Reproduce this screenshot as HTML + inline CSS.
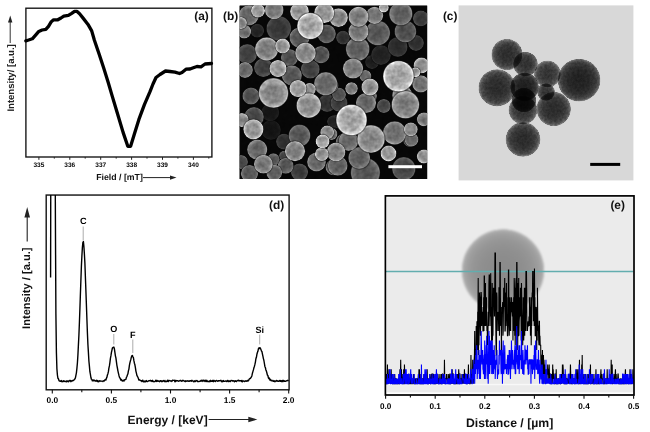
<!DOCTYPE html><html><head><meta charset="utf-8"><style>html,body{margin:0;padding:0;background:#fff;}svg{display:block;text-rendering:geometricPrecision;will-change:transform;}</style></head><body><svg width="650" height="432" viewBox="0 0 650 432"><defs><clipPath id="semclip"><rect x="239.6" y="5.6" width="187.6" height="173.4"/></clipPath><filter id="tex" filterUnits="userSpaceOnUse" x="239.6" y="5.6" width="187.6" height="173.4" color-interpolation-filters="sRGB"><feTurbulence type="fractalNoise" baseFrequency="0.22" numOctaves="2" seed="5" result="n"/><feColorMatrix in="n" type="matrix" values="1 0 0 0 0  1 0 0 0 0  1 0 0 0 0  0 0 0 0 1" result="gray"/><feComposite in="SourceGraphic" in2="gray" operator="arithmetic" k1="0.5" k2="0.75" k3="0" k4="0" result="t"/><feGaussianBlur in="t" stdDeviation="0.35"/></filter><radialGradient id="sg0" cx="0.5" cy="0.5" r="0.5"><stop offset="0" stop-color="#121212"/><stop offset="0.6" stop-color="#141414"/><stop offset="0.84" stop-color="#181818"/><stop offset="0.94" stop-color="#1c1c1c"/><stop offset="1" stop-color="#0f0f0f"/></radialGradient><radialGradient id="sg1" cx="0.5" cy="0.5" r="0.5"><stop offset="0" stop-color="#151515"/><stop offset="0.6" stop-color="#161616"/><stop offset="0.84" stop-color="#1b1b1b"/><stop offset="0.94" stop-color="#1f1f1f"/><stop offset="1" stop-color="#111111"/></radialGradient><radialGradient id="sg2" cx="0.5" cy="0.5" r="0.5"><stop offset="0" stop-color="#1c1c1c"/><stop offset="0.6" stop-color="#1e1e1e"/><stop offset="0.84" stop-color="#242424"/><stop offset="0.94" stop-color="#2b2b2b"/><stop offset="1" stop-color="#171717"/></radialGradient><radialGradient id="sg3" cx="0.5" cy="0.5" r="0.5"><stop offset="0" stop-color="#1f1f1f"/><stop offset="0.6" stop-color="#222222"/><stop offset="0.84" stop-color="#282828"/><stop offset="0.94" stop-color="#2f2f2f"/><stop offset="1" stop-color="#191919"/></radialGradient><radialGradient id="sg4" cx="0.5" cy="0.5" r="0.5"><stop offset="0" stop-color="#212121"/><stop offset="0.6" stop-color="#242424"/><stop offset="0.84" stop-color="#2b2b2b"/><stop offset="0.94" stop-color="#323232"/><stop offset="1" stop-color="#1b1b1b"/></radialGradient><radialGradient id="sg5" cx="0.5" cy="0.5" r="0.5"><stop offset="0" stop-color="#212121"/><stop offset="0.6" stop-color="#242424"/><stop offset="0.84" stop-color="#2b2b2b"/><stop offset="0.94" stop-color="#323232"/><stop offset="1" stop-color="#1b1b1b"/></radialGradient><radialGradient id="sg6" cx="0.5" cy="0.5" r="0.5"><stop offset="0" stop-color="#212121"/><stop offset="0.6" stop-color="#242424"/><stop offset="0.84" stop-color="#2b2b2b"/><stop offset="0.94" stop-color="#323232"/><stop offset="1" stop-color="#1b1b1b"/></radialGradient><radialGradient id="sg7" cx="0.5" cy="0.5" r="0.5"><stop offset="0" stop-color="#292929"/><stop offset="0.6" stop-color="#2c2c2c"/><stop offset="0.84" stop-color="#353535"/><stop offset="0.94" stop-color="#3e3e3e"/><stop offset="1" stop-color="#212121"/></radialGradient><radialGradient id="sg8" cx="0.5" cy="0.5" r="0.5"><stop offset="0" stop-color="#2c2c2c"/><stop offset="0.6" stop-color="#303030"/><stop offset="0.84" stop-color="#3a3a3a"/><stop offset="0.94" stop-color="#434343"/><stop offset="1" stop-color="#242424"/></radialGradient><radialGradient id="sg9" cx="0.5" cy="0.5" r="0.5"><stop offset="0" stop-color="#2c2c2c"/><stop offset="0.6" stop-color="#303030"/><stop offset="0.84" stop-color="#3a3a3a"/><stop offset="0.94" stop-color="#434343"/><stop offset="1" stop-color="#242424"/></radialGradient><radialGradient id="sg10" cx="0.5" cy="0.5" r="0.5"><stop offset="0" stop-color="#2c2c2c"/><stop offset="0.6" stop-color="#303030"/><stop offset="0.84" stop-color="#3a3a3a"/><stop offset="0.94" stop-color="#434343"/><stop offset="1" stop-color="#242424"/></radialGradient><radialGradient id="sg11" cx="0.5" cy="0.5" r="0.5"><stop offset="0" stop-color="#2e2e2e"/><stop offset="0.6" stop-color="#323232"/><stop offset="0.84" stop-color="#3c3c3c"/><stop offset="0.94" stop-color="#454545"/><stop offset="1" stop-color="#252525"/></radialGradient><radialGradient id="sg12" cx="0.5" cy="0.5" r="0.5"><stop offset="0" stop-color="#343434"/><stop offset="0.6" stop-color="#383838"/><stop offset="0.84" stop-color="#434343"/><stop offset="0.94" stop-color="#4e4e4e"/><stop offset="1" stop-color="#2a2a2a"/></radialGradient><radialGradient id="sg13" cx="0.5" cy="0.5" r="0.5"><stop offset="0" stop-color="#343434"/><stop offset="0.6" stop-color="#383838"/><stop offset="0.84" stop-color="#434343"/><stop offset="0.94" stop-color="#4e4e4e"/><stop offset="1" stop-color="#2a2a2a"/></radialGradient><radialGradient id="sg14" cx="0.5" cy="0.5" r="0.5"><stop offset="0" stop-color="#383838"/><stop offset="0.6" stop-color="#3c3c3c"/><stop offset="0.84" stop-color="#484848"/><stop offset="0.94" stop-color="#545454"/><stop offset="1" stop-color="#2d2d2d"/></radialGradient><radialGradient id="sg15" cx="0.5" cy="0.5" r="0.5"><stop offset="0" stop-color="#383838"/><stop offset="0.6" stop-color="#3c3c3c"/><stop offset="0.84" stop-color="#484848"/><stop offset="0.94" stop-color="#545454"/><stop offset="1" stop-color="#2d2d2d"/></radialGradient><radialGradient id="sg16" cx="0.5" cy="0.5" r="0.5"><stop offset="0" stop-color="#3b3b3b"/><stop offset="0.6" stop-color="#404040"/><stop offset="0.84" stop-color="#4d4d4d"/><stop offset="0.94" stop-color="#5a5a5a"/><stop offset="1" stop-color="#303030"/></radialGradient><radialGradient id="sg17" cx="0.5" cy="0.5" r="0.5"><stop offset="0" stop-color="#3b3b3b"/><stop offset="0.6" stop-color="#404040"/><stop offset="0.84" stop-color="#4d4d4d"/><stop offset="0.94" stop-color="#5a5a5a"/><stop offset="1" stop-color="#303030"/></radialGradient><radialGradient id="sg18" cx="0.5" cy="0.5" r="0.5"><stop offset="0" stop-color="#3b3b3b"/><stop offset="0.6" stop-color="#404040"/><stop offset="0.84" stop-color="#4d4d4d"/><stop offset="0.94" stop-color="#5a5a5a"/><stop offset="1" stop-color="#303030"/></radialGradient><radialGradient id="sg19" cx="0.5" cy="0.5" r="0.5"><stop offset="0" stop-color="#434343"/><stop offset="0.6" stop-color="#484848"/><stop offset="0.84" stop-color="#565656"/><stop offset="0.94" stop-color="#656565"/><stop offset="1" stop-color="#363636"/></radialGradient><radialGradient id="sg20" cx="0.5" cy="0.5" r="0.5"><stop offset="0" stop-color="#434343"/><stop offset="0.6" stop-color="#484848"/><stop offset="0.84" stop-color="#565656"/><stop offset="0.94" stop-color="#656565"/><stop offset="1" stop-color="#363636"/></radialGradient><radialGradient id="sg21" cx="0.5" cy="0.5" r="0.5"><stop offset="0" stop-color="#434343"/><stop offset="0.6" stop-color="#484848"/><stop offset="0.84" stop-color="#565656"/><stop offset="0.94" stop-color="#656565"/><stop offset="1" stop-color="#363636"/></radialGradient><radialGradient id="sg22" cx="0.5" cy="0.5" r="0.5"><stop offset="0" stop-color="#434343"/><stop offset="0.6" stop-color="#484848"/><stop offset="0.84" stop-color="#565656"/><stop offset="0.94" stop-color="#656565"/><stop offset="1" stop-color="#363636"/></radialGradient><radialGradient id="sg23" cx="0.5" cy="0.5" r="0.5"><stop offset="0" stop-color="#434343"/><stop offset="0.6" stop-color="#484848"/><stop offset="0.84" stop-color="#565656"/><stop offset="0.94" stop-color="#656565"/><stop offset="1" stop-color="#363636"/></radialGradient><radialGradient id="sg24" cx="0.5" cy="0.5" r="0.5"><stop offset="0" stop-color="#434343"/><stop offset="0.6" stop-color="#484848"/><stop offset="0.84" stop-color="#565656"/><stop offset="0.94" stop-color="#656565"/><stop offset="1" stop-color="#363636"/></radialGradient><radialGradient id="sg25" cx="0.5" cy="0.5" r="0.5"><stop offset="0" stop-color="#4a4a4a"/><stop offset="0.6" stop-color="#505050"/><stop offset="0.84" stop-color="#606060"/><stop offset="0.94" stop-color="#707070"/><stop offset="1" stop-color="#3c3c3c"/></radialGradient><radialGradient id="sg26" cx="0.5" cy="0.5" r="0.5"><stop offset="0" stop-color="#4a4a4a"/><stop offset="0.6" stop-color="#505050"/><stop offset="0.84" stop-color="#606060"/><stop offset="0.94" stop-color="#707070"/><stop offset="1" stop-color="#3c3c3c"/></radialGradient><radialGradient id="sg27" cx="0.5" cy="0.5" r="0.5"><stop offset="0" stop-color="#4a4a4a"/><stop offset="0.6" stop-color="#505050"/><stop offset="0.84" stop-color="#606060"/><stop offset="0.94" stop-color="#707070"/><stop offset="1" stop-color="#3c3c3c"/></radialGradient><radialGradient id="sg28" cx="0.5" cy="0.5" r="0.5"><stop offset="0" stop-color="#4a4a4a"/><stop offset="0.6" stop-color="#505050"/><stop offset="0.84" stop-color="#606060"/><stop offset="0.94" stop-color="#707070"/><stop offset="1" stop-color="#3c3c3c"/></radialGradient><radialGradient id="sg29" cx="0.5" cy="0.5" r="0.5"><stop offset="0" stop-color="#4a4a4a"/><stop offset="0.6" stop-color="#505050"/><stop offset="0.84" stop-color="#606060"/><stop offset="0.94" stop-color="#707070"/><stop offset="1" stop-color="#3c3c3c"/></radialGradient><radialGradient id="sg30" cx="0.5" cy="0.5" r="0.5"><stop offset="0" stop-color="#4a4a4a"/><stop offset="0.6" stop-color="#505050"/><stop offset="0.84" stop-color="#606060"/><stop offset="0.94" stop-color="#707070"/><stop offset="1" stop-color="#3c3c3c"/></radialGradient><radialGradient id="sg31" cx="0.5" cy="0.5" r="0.5"><stop offset="0" stop-color="#515151"/><stop offset="0.6" stop-color="#585858"/><stop offset="0.84" stop-color="#6a6a6a"/><stop offset="0.94" stop-color="#7b7b7b"/><stop offset="1" stop-color="#424242"/></radialGradient><radialGradient id="sg32" cx="0.5" cy="0.5" r="0.5"><stop offset="0" stop-color="#515151"/><stop offset="0.6" stop-color="#585858"/><stop offset="0.84" stop-color="#6a6a6a"/><stop offset="0.94" stop-color="#7b7b7b"/><stop offset="1" stop-color="#424242"/></radialGradient><radialGradient id="sg33" cx="0.5" cy="0.5" r="0.5"><stop offset="0" stop-color="#515151"/><stop offset="0.6" stop-color="#585858"/><stop offset="0.84" stop-color="#6a6a6a"/><stop offset="0.94" stop-color="#7b7b7b"/><stop offset="1" stop-color="#424242"/></radialGradient><radialGradient id="sg34" cx="0.5" cy="0.5" r="0.5"><stop offset="0" stop-color="#515151"/><stop offset="0.6" stop-color="#585858"/><stop offset="0.84" stop-color="#6a6a6a"/><stop offset="0.94" stop-color="#7b7b7b"/><stop offset="1" stop-color="#424242"/></radialGradient><radialGradient id="sg35" cx="0.5" cy="0.5" r="0.5"><stop offset="0" stop-color="#515151"/><stop offset="0.6" stop-color="#585858"/><stop offset="0.84" stop-color="#6a6a6a"/><stop offset="0.94" stop-color="#7b7b7b"/><stop offset="1" stop-color="#424242"/></radialGradient><radialGradient id="sg36" cx="0.5" cy="0.5" r="0.5"><stop offset="0" stop-color="#515151"/><stop offset="0.6" stop-color="#585858"/><stop offset="0.84" stop-color="#6a6a6a"/><stop offset="0.94" stop-color="#7b7b7b"/><stop offset="1" stop-color="#424242"/></radialGradient><radialGradient id="sg37" cx="0.5" cy="0.5" r="0.5"><stop offset="0" stop-color="#515151"/><stop offset="0.6" stop-color="#585858"/><stop offset="0.84" stop-color="#6a6a6a"/><stop offset="0.94" stop-color="#7b7b7b"/><stop offset="1" stop-color="#424242"/></radialGradient><radialGradient id="sg38" cx="0.5" cy="0.5" r="0.5"><stop offset="0" stop-color="#515151"/><stop offset="0.6" stop-color="#585858"/><stop offset="0.84" stop-color="#6a6a6a"/><stop offset="0.94" stop-color="#7b7b7b"/><stop offset="1" stop-color="#424242"/></radialGradient><radialGradient id="sg39" cx="0.5" cy="0.5" r="0.5"><stop offset="0" stop-color="#515151"/><stop offset="0.6" stop-color="#585858"/><stop offset="0.84" stop-color="#6a6a6a"/><stop offset="0.94" stop-color="#7b7b7b"/><stop offset="1" stop-color="#424242"/></radialGradient><radialGradient id="sg40" cx="0.5" cy="0.5" r="0.5"><stop offset="0" stop-color="#515151"/><stop offset="0.6" stop-color="#585858"/><stop offset="0.84" stop-color="#6a6a6a"/><stop offset="0.94" stop-color="#7b7b7b"/><stop offset="1" stop-color="#424242"/></radialGradient><radialGradient id="sg41" cx="0.5" cy="0.5" r="0.5"><stop offset="0" stop-color="#555555"/><stop offset="0.6" stop-color="#5c5c5c"/><stop offset="0.84" stop-color="#6e6e6e"/><stop offset="0.94" stop-color="#818181"/><stop offset="1" stop-color="#454545"/></radialGradient><radialGradient id="sg42" cx="0.5" cy="0.5" r="0.5"><stop offset="0" stop-color="#595959"/><stop offset="0.6" stop-color="#606060"/><stop offset="0.84" stop-color="#737373"/><stop offset="0.94" stop-color="#868686"/><stop offset="1" stop-color="#484848"/></radialGradient><radialGradient id="sg43" cx="0.5" cy="0.5" r="0.5"><stop offset="0" stop-color="#595959"/><stop offset="0.6" stop-color="#606060"/><stop offset="0.84" stop-color="#737373"/><stop offset="0.94" stop-color="#868686"/><stop offset="1" stop-color="#484848"/></radialGradient><radialGradient id="sg44" cx="0.5" cy="0.5" r="0.5"><stop offset="0" stop-color="#595959"/><stop offset="0.6" stop-color="#606060"/><stop offset="0.84" stop-color="#737373"/><stop offset="0.94" stop-color="#868686"/><stop offset="1" stop-color="#484848"/></radialGradient><radialGradient id="sg45" cx="0.5" cy="0.5" r="0.5"><stop offset="0" stop-color="#595959"/><stop offset="0.6" stop-color="#606060"/><stop offset="0.84" stop-color="#737373"/><stop offset="0.94" stop-color="#868686"/><stop offset="1" stop-color="#484848"/></radialGradient><radialGradient id="sg46" cx="0.5" cy="0.5" r="0.5"><stop offset="0" stop-color="#595959"/><stop offset="0.6" stop-color="#606060"/><stop offset="0.84" stop-color="#737373"/><stop offset="0.94" stop-color="#868686"/><stop offset="1" stop-color="#484848"/></radialGradient><radialGradient id="sg47" cx="0.5" cy="0.5" r="0.5"><stop offset="0" stop-color="#606060"/><stop offset="0.6" stop-color="#686868"/><stop offset="0.84" stop-color="#7d7d7d"/><stop offset="0.94" stop-color="#929292"/><stop offset="1" stop-color="#4e4e4e"/></radialGradient><radialGradient id="sg48" cx="0.5" cy="0.5" r="0.5"><stop offset="0" stop-color="#606060"/><stop offset="0.6" stop-color="#686868"/><stop offset="0.84" stop-color="#7d7d7d"/><stop offset="0.94" stop-color="#929292"/><stop offset="1" stop-color="#4e4e4e"/></radialGradient><radialGradient id="sg49" cx="0.5" cy="0.5" r="0.5"><stop offset="0" stop-color="#606060"/><stop offset="0.6" stop-color="#686868"/><stop offset="0.84" stop-color="#7d7d7d"/><stop offset="0.94" stop-color="#929292"/><stop offset="1" stop-color="#4e4e4e"/></radialGradient><radialGradient id="sg50" cx="0.5" cy="0.5" r="0.5"><stop offset="0" stop-color="#606060"/><stop offset="0.6" stop-color="#686868"/><stop offset="0.84" stop-color="#7d7d7d"/><stop offset="0.94" stop-color="#929292"/><stop offset="1" stop-color="#4e4e4e"/></radialGradient><radialGradient id="sg51" cx="0.5" cy="0.5" r="0.5"><stop offset="0" stop-color="#606060"/><stop offset="0.6" stop-color="#686868"/><stop offset="0.84" stop-color="#7d7d7d"/><stop offset="0.94" stop-color="#929292"/><stop offset="1" stop-color="#4e4e4e"/></radialGradient><radialGradient id="sg52" cx="0.5" cy="0.5" r="0.5"><stop offset="0" stop-color="#606060"/><stop offset="0.6" stop-color="#686868"/><stop offset="0.84" stop-color="#7d7d7d"/><stop offset="0.94" stop-color="#929292"/><stop offset="1" stop-color="#4e4e4e"/></radialGradient><radialGradient id="sg53" cx="0.5" cy="0.5" r="0.5"><stop offset="0" stop-color="#606060"/><stop offset="0.6" stop-color="#686868"/><stop offset="0.84" stop-color="#7d7d7d"/><stop offset="0.94" stop-color="#929292"/><stop offset="1" stop-color="#4e4e4e"/></radialGradient><radialGradient id="sg54" cx="0.5" cy="0.5" r="0.5"><stop offset="0" stop-color="#606060"/><stop offset="0.6" stop-color="#686868"/><stop offset="0.84" stop-color="#7d7d7d"/><stop offset="0.94" stop-color="#929292"/><stop offset="1" stop-color="#4e4e4e"/></radialGradient><radialGradient id="sg55" cx="0.5" cy="0.5" r="0.5"><stop offset="0" stop-color="#606060"/><stop offset="0.6" stop-color="#686868"/><stop offset="0.84" stop-color="#7d7d7d"/><stop offset="0.94" stop-color="#929292"/><stop offset="1" stop-color="#4e4e4e"/></radialGradient><radialGradient id="sg56" cx="0.5" cy="0.5" r="0.5"><stop offset="0" stop-color="#606060"/><stop offset="0.6" stop-color="#686868"/><stop offset="0.84" stop-color="#7d7d7d"/><stop offset="0.94" stop-color="#929292"/><stop offset="1" stop-color="#4e4e4e"/></radialGradient><radialGradient id="sg57" cx="0.5" cy="0.5" r="0.5"><stop offset="0" stop-color="#606060"/><stop offset="0.6" stop-color="#686868"/><stop offset="0.84" stop-color="#7d7d7d"/><stop offset="0.94" stop-color="#929292"/><stop offset="1" stop-color="#4e4e4e"/></radialGradient><radialGradient id="sg58" cx="0.5" cy="0.5" r="0.5"><stop offset="0" stop-color="#686868"/><stop offset="0.6" stop-color="#707070"/><stop offset="0.84" stop-color="#868686"/><stop offset="0.94" stop-color="#9d9d9d"/><stop offset="1" stop-color="#545454"/></radialGradient><radialGradient id="sg59" cx="0.5" cy="0.5" r="0.5"><stop offset="0" stop-color="#686868"/><stop offset="0.6" stop-color="#707070"/><stop offset="0.84" stop-color="#868686"/><stop offset="0.94" stop-color="#9d9d9d"/><stop offset="1" stop-color="#545454"/></radialGradient><radialGradient id="sg60" cx="0.5" cy="0.5" r="0.5"><stop offset="0" stop-color="#686868"/><stop offset="0.6" stop-color="#707070"/><stop offset="0.84" stop-color="#868686"/><stop offset="0.94" stop-color="#9d9d9d"/><stop offset="1" stop-color="#545454"/></radialGradient><radialGradient id="sg61" cx="0.5" cy="0.5" r="0.5"><stop offset="0" stop-color="#6f6f6f"/><stop offset="0.6" stop-color="#787878"/><stop offset="0.84" stop-color="#909090"/><stop offset="0.94" stop-color="#a8a8a8"/><stop offset="1" stop-color="#5a5a5a"/></radialGradient><radialGradient id="sg62" cx="0.5" cy="0.5" r="0.5"><stop offset="0" stop-color="#6f6f6f"/><stop offset="0.6" stop-color="#787878"/><stop offset="0.84" stop-color="#909090"/><stop offset="0.94" stop-color="#a8a8a8"/><stop offset="1" stop-color="#5a5a5a"/></radialGradient><radialGradient id="sg63" cx="0.5" cy="0.5" r="0.5"><stop offset="0" stop-color="#6f6f6f"/><stop offset="0.6" stop-color="#787878"/><stop offset="0.84" stop-color="#909090"/><stop offset="0.94" stop-color="#a8a8a8"/><stop offset="1" stop-color="#5a5a5a"/></radialGradient><radialGradient id="sg64" cx="0.5" cy="0.5" r="0.5"><stop offset="0" stop-color="#6f6f6f"/><stop offset="0.6" stop-color="#787878"/><stop offset="0.84" stop-color="#909090"/><stop offset="0.94" stop-color="#a8a8a8"/><stop offset="1" stop-color="#5a5a5a"/></radialGradient><radialGradient id="sg65" cx="0.5" cy="0.5" r="0.5"><stop offset="0" stop-color="#6f6f6f"/><stop offset="0.6" stop-color="#787878"/><stop offset="0.84" stop-color="#909090"/><stop offset="0.94" stop-color="#a8a8a8"/><stop offset="1" stop-color="#5a5a5a"/></radialGradient><radialGradient id="sg66" cx="0.5" cy="0.5" r="0.5"><stop offset="0" stop-color="#6f6f6f"/><stop offset="0.6" stop-color="#787878"/><stop offset="0.84" stop-color="#909090"/><stop offset="0.94" stop-color="#a8a8a8"/><stop offset="1" stop-color="#5a5a5a"/></radialGradient><radialGradient id="sg67" cx="0.5" cy="0.5" r="0.5"><stop offset="0" stop-color="#6f6f6f"/><stop offset="0.6" stop-color="#787878"/><stop offset="0.84" stop-color="#909090"/><stop offset="0.94" stop-color="#a8a8a8"/><stop offset="1" stop-color="#5a5a5a"/></radialGradient><radialGradient id="sg68" cx="0.5" cy="0.5" r="0.5"><stop offset="0" stop-color="#6f6f6f"/><stop offset="0.6" stop-color="#787878"/><stop offset="0.84" stop-color="#909090"/><stop offset="0.94" stop-color="#a8a8a8"/><stop offset="1" stop-color="#5a5a5a"/></radialGradient><radialGradient id="sg69" cx="0.5" cy="0.5" r="0.5"><stop offset="0" stop-color="#767676"/><stop offset="0.6" stop-color="#808080"/><stop offset="0.84" stop-color="#9a9a9a"/><stop offset="0.94" stop-color="#b3b3b3"/><stop offset="1" stop-color="#606060"/></radialGradient><radialGradient id="sg70" cx="0.5" cy="0.5" r="0.5"><stop offset="0" stop-color="#767676"/><stop offset="0.6" stop-color="#808080"/><stop offset="0.84" stop-color="#9a9a9a"/><stop offset="0.94" stop-color="#b3b3b3"/><stop offset="1" stop-color="#606060"/></radialGradient><radialGradient id="sg71" cx="0.5" cy="0.5" r="0.5"><stop offset="0" stop-color="#767676"/><stop offset="0.6" stop-color="#808080"/><stop offset="0.84" stop-color="#9a9a9a"/><stop offset="0.94" stop-color="#b3b3b3"/><stop offset="1" stop-color="#606060"/></radialGradient><radialGradient id="sg72" cx="0.5" cy="0.5" r="0.5"><stop offset="0" stop-color="#767676"/><stop offset="0.6" stop-color="#808080"/><stop offset="0.84" stop-color="#9a9a9a"/><stop offset="0.94" stop-color="#b3b3b3"/><stop offset="1" stop-color="#606060"/></radialGradient><radialGradient id="sg73" cx="0.5" cy="0.5" r="0.5"><stop offset="0" stop-color="#767676"/><stop offset="0.6" stop-color="#808080"/><stop offset="0.84" stop-color="#9a9a9a"/><stop offset="0.94" stop-color="#b3b3b3"/><stop offset="1" stop-color="#606060"/></radialGradient><radialGradient id="sg74" cx="0.5" cy="0.5" r="0.5"><stop offset="0" stop-color="#7e7e7e"/><stop offset="0.6" stop-color="#888888"/><stop offset="0.84" stop-color="#a3a3a3"/><stop offset="0.94" stop-color="#bebebe"/><stop offset="1" stop-color="#666666"/></radialGradient><radialGradient id="sg75" cx="0.5" cy="0.5" r="0.5"><stop offset="0" stop-color="#7e7e7e"/><stop offset="0.6" stop-color="#888888"/><stop offset="0.84" stop-color="#a3a3a3"/><stop offset="0.94" stop-color="#bebebe"/><stop offset="1" stop-color="#666666"/></radialGradient><radialGradient id="sg76" cx="0.5" cy="0.5" r="0.5"><stop offset="0" stop-color="#7e7e7e"/><stop offset="0.6" stop-color="#888888"/><stop offset="0.84" stop-color="#a3a3a3"/><stop offset="0.94" stop-color="#bebebe"/><stop offset="1" stop-color="#666666"/></radialGradient><radialGradient id="sg77" cx="0.5" cy="0.5" r="0.5"><stop offset="0" stop-color="#7e7e7e"/><stop offset="0.6" stop-color="#888888"/><stop offset="0.84" stop-color="#a3a3a3"/><stop offset="0.94" stop-color="#bebebe"/><stop offset="1" stop-color="#666666"/></radialGradient><radialGradient id="sg78" cx="0.5" cy="0.5" r="0.5"><stop offset="0" stop-color="#7e7e7e"/><stop offset="0.6" stop-color="#888888"/><stop offset="0.84" stop-color="#a3a3a3"/><stop offset="0.94" stop-color="#bebebe"/><stop offset="1" stop-color="#666666"/></radialGradient><radialGradient id="sg79" cx="0.5" cy="0.5" r="0.5"><stop offset="0" stop-color="#7e7e7e"/><stop offset="0.6" stop-color="#888888"/><stop offset="0.84" stop-color="#a3a3a3"/><stop offset="0.94" stop-color="#bebebe"/><stop offset="1" stop-color="#666666"/></radialGradient><radialGradient id="sg80" cx="0.5" cy="0.5" r="0.5"><stop offset="0" stop-color="#7e7e7e"/><stop offset="0.6" stop-color="#888888"/><stop offset="0.84" stop-color="#a3a3a3"/><stop offset="0.94" stop-color="#bebebe"/><stop offset="1" stop-color="#666666"/></radialGradient><radialGradient id="sg81" cx="0.5" cy="0.5" r="0.5"><stop offset="0" stop-color="#7e7e7e"/><stop offset="0.6" stop-color="#888888"/><stop offset="0.84" stop-color="#a3a3a3"/><stop offset="0.94" stop-color="#bebebe"/><stop offset="1" stop-color="#666666"/></radialGradient><radialGradient id="sg82" cx="0.5" cy="0.5" r="0.5"><stop offset="0" stop-color="#858585"/><stop offset="0.6" stop-color="#909090"/><stop offset="0.84" stop-color="#adadad"/><stop offset="0.94" stop-color="#cacaca"/><stop offset="1" stop-color="#6c6c6c"/></radialGradient><radialGradient id="sg83" cx="0.5" cy="0.5" r="0.5"><stop offset="0" stop-color="#858585"/><stop offset="0.6" stop-color="#909090"/><stop offset="0.84" stop-color="#adadad"/><stop offset="0.94" stop-color="#cacaca"/><stop offset="1" stop-color="#6c6c6c"/></radialGradient><radialGradient id="sg84" cx="0.5" cy="0.5" r="0.5"><stop offset="0" stop-color="#858585"/><stop offset="0.6" stop-color="#909090"/><stop offset="0.84" stop-color="#adadad"/><stop offset="0.94" stop-color="#cacaca"/><stop offset="1" stop-color="#6c6c6c"/></radialGradient><radialGradient id="sg85" cx="0.5" cy="0.5" r="0.5"><stop offset="0" stop-color="#858585"/><stop offset="0.6" stop-color="#909090"/><stop offset="0.84" stop-color="#adadad"/><stop offset="0.94" stop-color="#cacaca"/><stop offset="1" stop-color="#6c6c6c"/></radialGradient><radialGradient id="sg86" cx="0.5" cy="0.5" r="0.5"><stop offset="0" stop-color="#858585"/><stop offset="0.6" stop-color="#909090"/><stop offset="0.84" stop-color="#adadad"/><stop offset="0.94" stop-color="#cacaca"/><stop offset="1" stop-color="#6c6c6c"/></radialGradient><radialGradient id="sg87" cx="0.5" cy="0.5" r="0.5"><stop offset="0" stop-color="#858585"/><stop offset="0.6" stop-color="#909090"/><stop offset="0.84" stop-color="#adadad"/><stop offset="0.94" stop-color="#cacaca"/><stop offset="1" stop-color="#6c6c6c"/></radialGradient><radialGradient id="sg88" cx="0.5" cy="0.5" r="0.5"><stop offset="0" stop-color="#8d8d8d"/><stop offset="0.6" stop-color="#989898"/><stop offset="0.84" stop-color="#b6b6b6"/><stop offset="0.94" stop-color="#d5d5d5"/><stop offset="1" stop-color="#727272"/></radialGradient><radialGradient id="sg89" cx="0.5" cy="0.5" r="0.5"><stop offset="0" stop-color="#8d8d8d"/><stop offset="0.6" stop-color="#989898"/><stop offset="0.84" stop-color="#b6b6b6"/><stop offset="0.94" stop-color="#d5d5d5"/><stop offset="1" stop-color="#727272"/></radialGradient><radialGradient id="sg90" cx="0.5" cy="0.5" r="0.5"><stop offset="0" stop-color="#8d8d8d"/><stop offset="0.6" stop-color="#989898"/><stop offset="0.84" stop-color="#b6b6b6"/><stop offset="0.94" stop-color="#d5d5d5"/><stop offset="1" stop-color="#727272"/></radialGradient><radialGradient id="sg91" cx="0.5" cy="0.5" r="0.5"><stop offset="0" stop-color="#8d8d8d"/><stop offset="0.6" stop-color="#989898"/><stop offset="0.84" stop-color="#b6b6b6"/><stop offset="0.94" stop-color="#d5d5d5"/><stop offset="1" stop-color="#727272"/></radialGradient><radialGradient id="sg92" cx="0.5" cy="0.5" r="0.5"><stop offset="0" stop-color="#8d8d8d"/><stop offset="0.6" stop-color="#989898"/><stop offset="0.84" stop-color="#b6b6b6"/><stop offset="0.94" stop-color="#d5d5d5"/><stop offset="1" stop-color="#727272"/></radialGradient><radialGradient id="sg93" cx="0.5" cy="0.5" r="0.5"><stop offset="0" stop-color="#8d8d8d"/><stop offset="0.6" stop-color="#989898"/><stop offset="0.84" stop-color="#b6b6b6"/><stop offset="0.94" stop-color="#d5d5d5"/><stop offset="1" stop-color="#727272"/></radialGradient><radialGradient id="sg94" cx="0.5" cy="0.5" r="0.5"><stop offset="0" stop-color="#8d8d8d"/><stop offset="0.6" stop-color="#989898"/><stop offset="0.84" stop-color="#b6b6b6"/><stop offset="0.94" stop-color="#d5d5d5"/><stop offset="1" stop-color="#727272"/></radialGradient><radialGradient id="sg95" cx="0.5" cy="0.5" r="0.5"><stop offset="0" stop-color="#8d8d8d"/><stop offset="0.6" stop-color="#989898"/><stop offset="0.84" stop-color="#b6b6b6"/><stop offset="0.94" stop-color="#d5d5d5"/><stop offset="1" stop-color="#727272"/></radialGradient><radialGradient id="sg96" cx="0.5" cy="0.5" r="0.5"><stop offset="0" stop-color="#949494"/><stop offset="0.6" stop-color="#a0a0a0"/><stop offset="0.84" stop-color="#c0c0c0"/><stop offset="0.94" stop-color="#e0e0e0"/><stop offset="1" stop-color="#787878"/></radialGradient><radialGradient id="sg97" cx="0.5" cy="0.5" r="0.5"><stop offset="0" stop-color="#949494"/><stop offset="0.6" stop-color="#a0a0a0"/><stop offset="0.84" stop-color="#c0c0c0"/><stop offset="0.94" stop-color="#e0e0e0"/><stop offset="1" stop-color="#787878"/></radialGradient><radialGradient id="sg98" cx="0.5" cy="0.5" r="0.5"><stop offset="0" stop-color="#9b9b9b"/><stop offset="0.6" stop-color="#a8a8a8"/><stop offset="0.84" stop-color="#cacaca"/><stop offset="0.94" stop-color="#ebebeb"/><stop offset="1" stop-color="#7e7e7e"/></radialGradient><radialGradient id="sg99" cx="0.5" cy="0.5" r="0.5"><stop offset="0" stop-color="#9b9b9b"/><stop offset="0.6" stop-color="#a8a8a8"/><stop offset="0.84" stop-color="#cacaca"/><stop offset="0.94" stop-color="#ebebeb"/><stop offset="1" stop-color="#7e7e7e"/></radialGradient><radialGradient id="sg100" cx="0.5" cy="0.5" r="0.5"><stop offset="0" stop-color="#9b9b9b"/><stop offset="0.6" stop-color="#a8a8a8"/><stop offset="0.84" stop-color="#cacaca"/><stop offset="0.94" stop-color="#ebebeb"/><stop offset="1" stop-color="#7e7e7e"/></radialGradient><radialGradient id="sg101" cx="0.5" cy="0.5" r="0.5"><stop offset="0" stop-color="#9b9b9b"/><stop offset="0.6" stop-color="#a8a8a8"/><stop offset="0.84" stop-color="#cacaca"/><stop offset="0.94" stop-color="#ebebeb"/><stop offset="1" stop-color="#7e7e7e"/></radialGradient><filter id="tblur" x="-0.1" y="-0.1" width="1.2" height="1.2" color-interpolation-filters="sRGB"><feTurbulence type="fractalNoise" baseFrequency="0.4" numOctaves="2" seed="9" result="n"/><feColorMatrix in="n" type="matrix" values="1 0 0 0 0  1 0 0 0 0  1 0 0 0 0  0 0 0 0 1" result="gray"/><feComposite in="SourceGraphic" in2="gray" operator="arithmetic" k1="0.6" k2="0.72" k3="0" k4="0" result="t"/><feGaussianBlur in="t" stdDeviation="0.45"/></filter><radialGradient id="tg0" cx="0.5" cy="0.5" r="0.5"><stop offset="0.000" stop-color="#2c2c2c"/><stop offset="0.300" stop-color="#2e2e2e"/><stop offset="0.500" stop-color="#333333"/><stop offset="0.650" stop-color="#3a3a3a"/><stop offset="0.750" stop-color="#424242"/><stop offset="0.830" stop-color="#4b4b4b"/><stop offset="0.890" stop-color="#565656"/><stop offset="0.930" stop-color="#626262"/><stop offset="0.960" stop-color="#707070"/><stop offset="0.980" stop-color="#818181"/><stop offset="0.995" stop-color="#9d9d9d"/><stop offset="1.000" stop-color="#d8d8d8"/></radialGradient><radialGradient id="tg1" cx="0.5" cy="0.5" r="0.5"><stop offset="0.000" stop-color="#303030"/><stop offset="0.300" stop-color="#323232"/><stop offset="0.500" stop-color="#373737"/><stop offset="0.650" stop-color="#3e3e3e"/><stop offset="0.750" stop-color="#464646"/><stop offset="0.830" stop-color="#505050"/><stop offset="0.890" stop-color="#5b5b5b"/><stop offset="0.930" stop-color="#666666"/><stop offset="0.960" stop-color="#757575"/><stop offset="0.980" stop-color="#858585"/><stop offset="0.995" stop-color="#a0a0a0"/><stop offset="1.000" stop-color="#d8d8d8"/></radialGradient><radialGradient id="tg2" cx="0.5" cy="0.5" r="0.5"><stop offset="0.000" stop-color="#2a2a2a"/><stop offset="0.300" stop-color="#2c2c2c"/><stop offset="0.500" stop-color="#313131"/><stop offset="0.650" stop-color="#383838"/><stop offset="0.750" stop-color="#3f3f3f"/><stop offset="0.830" stop-color="#494949"/><stop offset="0.890" stop-color="#545454"/><stop offset="0.930" stop-color="#606060"/><stop offset="0.960" stop-color="#6e6e6e"/><stop offset="0.980" stop-color="#7f7f7f"/><stop offset="0.995" stop-color="#9c9c9c"/><stop offset="1.000" stop-color="#d8d8d8"/></radialGradient><radialGradient id="tg3" cx="0.5" cy="0.5" r="0.5"><stop offset="0.000" stop-color="#1e1e1e"/><stop offset="0.300" stop-color="#202020"/><stop offset="0.500" stop-color="#242424"/><stop offset="0.650" stop-color="#2a2a2a"/><stop offset="0.750" stop-color="#313131"/><stop offset="0.830" stop-color="#3a3a3a"/><stop offset="0.890" stop-color="#454545"/><stop offset="0.930" stop-color="#515151"/><stop offset="0.960" stop-color="#606060"/><stop offset="0.980" stop-color="#727272"/><stop offset="0.995" stop-color="#929292"/><stop offset="1.000" stop-color="#d8d8d8"/></radialGradient><radialGradient id="tg4" cx="0.5" cy="0.5" r="0.5"><stop offset="0.000" stop-color="#222222"/><stop offset="0.300" stop-color="#242424"/><stop offset="0.500" stop-color="#292929"/><stop offset="0.650" stop-color="#2f2f2f"/><stop offset="0.750" stop-color="#363636"/><stop offset="0.830" stop-color="#3f3f3f"/><stop offset="0.890" stop-color="#4a4a4a"/><stop offset="0.930" stop-color="#565656"/><stop offset="0.960" stop-color="#656565"/><stop offset="0.980" stop-color="#777777"/><stop offset="0.995" stop-color="#959595"/><stop offset="1.000" stop-color="#d8d8d8"/></radialGradient><radialGradient id="tg5" cx="0.5" cy="0.5" r="0.5"><stop offset="0.000" stop-color="#303030"/><stop offset="0.300" stop-color="#323232"/><stop offset="0.500" stop-color="#373737"/><stop offset="0.650" stop-color="#3e3e3e"/><stop offset="0.750" stop-color="#464646"/><stop offset="0.830" stop-color="#505050"/><stop offset="0.890" stop-color="#5b5b5b"/><stop offset="0.930" stop-color="#666666"/><stop offset="0.960" stop-color="#757575"/><stop offset="0.980" stop-color="#858585"/><stop offset="0.995" stop-color="#a0a0a0"/><stop offset="1.000" stop-color="#d8d8d8"/></radialGradient><radialGradient id="tg6" cx="0.5" cy="0.5" r="0.5"><stop offset="0.000" stop-color="#323232"/><stop offset="0.300" stop-color="#343434"/><stop offset="0.500" stop-color="#3a3a3a"/><stop offset="0.650" stop-color="#414141"/><stop offset="0.750" stop-color="#484848"/><stop offset="0.830" stop-color="#525252"/><stop offset="0.890" stop-color="#5d5d5d"/><stop offset="0.930" stop-color="#686868"/><stop offset="0.960" stop-color="#777777"/><stop offset="0.980" stop-color="#878787"/><stop offset="0.995" stop-color="#a1a1a1"/><stop offset="1.000" stop-color="#d8d8d8"/></radialGradient><radialGradient id="tg7" cx="0.5" cy="0.5" r="0.5"><stop offset="0.000" stop-color="#212121"/><stop offset="0.300" stop-color="#232323"/><stop offset="0.500" stop-color="#282828"/><stop offset="0.650" stop-color="#2e2e2e"/><stop offset="0.750" stop-color="#353535"/><stop offset="0.830" stop-color="#3e3e3e"/><stop offset="0.890" stop-color="#494949"/><stop offset="0.930" stop-color="#555555"/><stop offset="0.960" stop-color="#646464"/><stop offset="0.980" stop-color="#767676"/><stop offset="0.995" stop-color="#959595"/><stop offset="1.000" stop-color="#d8d8d8"/></radialGradient><radialGradient id="tg8" cx="0.5" cy="0.5" r="0.5"><stop offset="0.000" stop-color="#2a2a2a"/><stop offset="0.300" stop-color="#2c2c2c"/><stop offset="0.500" stop-color="#313131"/><stop offset="0.650" stop-color="#383838"/><stop offset="0.750" stop-color="#3f3f3f"/><stop offset="0.830" stop-color="#494949"/><stop offset="0.890" stop-color="#545454"/><stop offset="0.930" stop-color="#606060"/><stop offset="0.960" stop-color="#6e6e6e"/><stop offset="0.980" stop-color="#7f7f7f"/><stop offset="0.995" stop-color="#9c9c9c"/><stop offset="1.000" stop-color="#d8d8d8"/></radialGradient><radialGradient id="tg9" cx="0.5" cy="0.5" r="0.5"><stop offset="0.000" stop-color="#323232"/><stop offset="0.300" stop-color="#343434"/><stop offset="0.500" stop-color="#3a3a3a"/><stop offset="0.650" stop-color="#414141"/><stop offset="0.750" stop-color="#484848"/><stop offset="0.830" stop-color="#525252"/><stop offset="0.890" stop-color="#5d5d5d"/><stop offset="0.930" stop-color="#686868"/><stop offset="0.960" stop-color="#777777"/><stop offset="0.980" stop-color="#878787"/><stop offset="0.995" stop-color="#a1a1a1"/><stop offset="1.000" stop-color="#d8d8d8"/></radialGradient><radialGradient id="tg10" cx="0.5" cy="0.5" r="0.5"><stop offset="0.000" stop-color="#2a2a2a"/><stop offset="0.300" stop-color="#2c2c2c"/><stop offset="0.500" stop-color="#313131"/><stop offset="0.650" stop-color="#383838"/><stop offset="0.750" stop-color="#3f3f3f"/><stop offset="0.830" stop-color="#494949"/><stop offset="0.890" stop-color="#545454"/><stop offset="0.930" stop-color="#606060"/><stop offset="0.960" stop-color="#6e6e6e"/><stop offset="0.980" stop-color="#7f7f7f"/><stop offset="0.995" stop-color="#9c9c9c"/><stop offset="1.000" stop-color="#d8d8d8"/></radialGradient><clipPath id="dclip"><rect x="46.2" y="195.05" width="242.90000000000003" height="194.75"/></clipPath><clipPath id="eclip"><rect x="385.4" y="195.9" width="248.60000000000002" height="199.1"/></clipPath><radialGradient id="esph" cx="0.5" cy="0.5" r="0.5"><stop offset="0.000" stop-color="#8a8a8a"/><stop offset="0.300" stop-color="#8c8c8c"/><stop offset="0.500" stop-color="#8f8f8f"/><stop offset="0.650" stop-color="#939393"/><stop offset="0.750" stop-color="#979797"/><stop offset="0.830" stop-color="#9c9c9c"/><stop offset="0.890" stop-color="#a1a1a1"/><stop offset="0.930" stop-color="#a7a7a7"/><stop offset="0.960" stop-color="#adadad"/><stop offset="0.980" stop-color="#b5b5b5"/><stop offset="0.995" stop-color="#c2c2c2"/><stop offset="1.000" stop-color="#ebebeb"/></radialGradient><filter id="eblur" x="-0.2" y="-0.2" width="1.4" height="1.4"><feGaussianBlur stdDeviation="1.0"/></filter></defs><rect width="650" height="432" fill="#fff"/><rect x="25.9" y="8.2" width="186.0" height="148.8" fill="none" stroke="#111" stroke-width="1.35"/>
<line x1="38.9" y1="157.0" x2="38.9" y2="159.8" stroke="#222" stroke-width="1"/>
<text x="38.9" y="167.3" font-size="6.5" text-anchor="middle" font-family="'Liberation Sans', sans-serif" font-weight="bold" fill="#000">335</text>
<line x1="69.8" y1="157.0" x2="69.8" y2="159.8" stroke="#222" stroke-width="1"/>
<text x="69.8" y="167.3" font-size="6.5" text-anchor="middle" font-family="'Liberation Sans', sans-serif" font-weight="bold" fill="#000">336</text>
<line x1="100.7" y1="157.0" x2="100.7" y2="159.8" stroke="#222" stroke-width="1"/>
<text x="100.7" y="167.3" font-size="6.5" text-anchor="middle" font-family="'Liberation Sans', sans-serif" font-weight="bold" fill="#000">337</text>
<line x1="131.6" y1="157.0" x2="131.6" y2="159.8" stroke="#222" stroke-width="1"/>
<text x="131.6" y="167.3" font-size="6.5" text-anchor="middle" font-family="'Liberation Sans', sans-serif" font-weight="bold" fill="#000">338</text>
<line x1="162.5" y1="157.0" x2="162.5" y2="159.8" stroke="#222" stroke-width="1"/>
<text x="162.5" y="167.3" font-size="6.5" text-anchor="middle" font-family="'Liberation Sans', sans-serif" font-weight="bold" fill="#000">339</text>
<line x1="193.4" y1="157.0" x2="193.4" y2="159.8" stroke="#222" stroke-width="1"/>
<text x="193.4" y="167.3" font-size="6.5" text-anchor="middle" font-family="'Liberation Sans', sans-serif" font-weight="bold" fill="#000">340</text>
<line x1="54.3" y1="157.0" x2="54.3" y2="158.6" stroke="#222" stroke-width="1"/>
<line x1="85.2" y1="157.0" x2="85.2" y2="158.6" stroke="#222" stroke-width="1"/>
<line x1="116.2" y1="157.0" x2="116.2" y2="158.6" stroke="#222" stroke-width="1"/>
<line x1="147.0" y1="157.0" x2="147.0" y2="158.6" stroke="#222" stroke-width="1"/>
<line x1="177.9" y1="157.0" x2="177.9" y2="158.6" stroke="#222" stroke-width="1"/>
<line x1="208.8" y1="157.0" x2="208.8" y2="158.6" stroke="#222" stroke-width="1"/>
<polyline points="25.8,40.8 28.6,40 32.3,38.8 35.6,35.1 38.8,31.4 42.1,30 45.8,29.3 48.5,26.3 51.3,21.7 53.6,19.8 57.8,19.8 61,18 63.8,16.1 68.4,15.4 71.7,13.3 74.5,11.3 76.8,11.3 79.6,13.8 83.3,18.4 88,24.4 91.7,30.9 94.4,40.2 99.1,54 103.7,68 108.3,82.8 112,95.4 117.6,113.9 123.1,132.4 127.8,146.3 130.6,146.3 134.3,134.3 138.9,119.4 144.4,104.6 150,91.7 153,84 156,77.5 160,74.5 165.5,71 170,71.5 175,72.2 179.5,73.5 182,72.5 186,69.2 190,69 194,67.5 197,66.5 201,66.8 205,64 211.5,63.5" fill="none" stroke="#000" stroke-width="3.3" stroke-linejoin="round" stroke-linecap="round"/>
<text x="194.2" y="20.0" font-size="11.9" font-family="'Liberation Sans', sans-serif" font-weight="bold" fill="#111">(a)</text>
<text x="96.2" y="180.4" font-size="8.75" font-family="'Liberation Sans', sans-serif" font-weight="bold" fill="#111">Field / [mT]</text>
<line x1="143" y1="177.6" x2="171" y2="177.6" stroke="#222" stroke-width="1"/>
<path d="M176.5,177.6 L170,175.4 L170,179.8 Z" fill="#222"/>
<text transform="translate(13.7,111.6) rotate(-90)" font-size="9.55" font-family="'Liberation Sans', sans-serif" font-weight="bold" fill="#222">Intensity/ [a.u.]</text>
<line x1="10.2" y1="43" x2="10.2" y2="21" stroke="#333" stroke-width="1"/>
<path d="M10.2,15.5 L8,22.5 L12.4,22.5 Z" fill="#222"/>
<text x="223.0" y="20.0" font-size="11.9" font-family="'Liberation Sans', sans-serif" font-weight="bold" fill="#111">(b)</text>
<rect x="239.6" y="5.6" width="187.6" height="173.4" fill="#070707"/>
<g clip-path="url(#semclip)"><g filter="url(#tex)">
<rect x="239.6" y="5.6" width="187.6" height="173.4" fill="#070707"/>
<circle cx="271" cy="130" r="10.7" fill="#050505" opacity="0.35"/>
<circle cx="271" cy="130" r="9.9" fill="url(#sg0)"/>
<circle cx="270.3" cy="112.4" r="9.7" fill="#050505" opacity="0.35"/>
<circle cx="270.3" cy="112.4" r="8.9" fill="url(#sg1)"/>
<circle cx="372" cy="62" r="7.7" fill="#050505" opacity="0.35"/>
<circle cx="372" cy="62" r="6.9" fill="url(#sg2)"/>
<circle cx="381" cy="55" r="10.7" fill="#050505" opacity="0.35"/>
<circle cx="381" cy="55" r="9.9" fill="url(#sg3)"/>
<circle cx="257.2" cy="30.7" r="7.7" fill="#050505" opacity="0.35"/>
<circle cx="257.2" cy="30.7" r="6.9" fill="url(#sg4)"/>
<circle cx="335" cy="121.6" r="7.7" fill="#050505" opacity="0.35"/>
<circle cx="335" cy="121.6" r="6.9" fill="url(#sg5)"/>
<circle cx="333" cy="121.6" r="6.7" fill="#050505" opacity="0.35"/>
<circle cx="333" cy="121.6" r="5.9" fill="url(#sg6)"/>
<circle cx="397.7" cy="47" r="10.7" fill="#050505" opacity="0.35"/>
<circle cx="397.7" cy="47" r="9.9" fill="url(#sg7)"/>
<circle cx="284" cy="141.6" r="8.7" fill="#050505" opacity="0.35"/>
<circle cx="284" cy="141.6" r="7.9" fill="url(#sg8)"/>
<circle cx="343" cy="37.6" r="7.7" fill="#050505" opacity="0.35"/>
<circle cx="343" cy="37.6" r="6.9" fill="url(#sg9)"/>
<circle cx="416" cy="43" r="8.7" fill="#050505" opacity="0.35"/>
<circle cx="416" cy="43" r="7.9" fill="url(#sg10)"/>
<circle cx="327.2" cy="103" r="9.7" fill="#050505" opacity="0.35"/>
<circle cx="327.2" cy="103" r="8.9" fill="url(#sg11)"/>
<circle cx="278.8" cy="28.4" r="13.2" fill="#050505" opacity="0.35"/>
<circle cx="278.8" cy="28.4" r="12.4" fill="url(#sg12)"/>
<circle cx="420.8" cy="18.4" r="8.7" fill="#050505" opacity="0.35"/>
<circle cx="420.8" cy="18.4" r="7.9" fill="url(#sg13)"/>
<circle cx="299.5" cy="172" r="9.4" fill="#050505" opacity="0.35"/>
<circle cx="299.5" cy="172" r="8.6" fill="url(#sg14)"/>
<circle cx="339" cy="103" r="9.4" fill="#050505" opacity="0.35"/>
<circle cx="339" cy="103" r="8.6" fill="url(#sg15)"/>
<circle cx="247.2" cy="54" r="10.7" fill="#050505" opacity="0.35"/>
<circle cx="247.2" cy="54" r="9.9" fill="url(#sg16)"/>
<circle cx="263.4" cy="67.7" r="10.2" fill="#050505" opacity="0.35"/>
<circle cx="263.4" cy="67.7" r="9.4" fill="url(#sg17)"/>
<circle cx="310.3" cy="69.2" r="10.2" fill="#050505" opacity="0.35"/>
<circle cx="310.3" cy="69.2" r="9.4" fill="url(#sg18)"/>
<circle cx="254" cy="117" r="10.7" fill="#050505" opacity="0.35"/>
<circle cx="254" cy="117" r="9.9" fill="url(#sg19)"/>
<circle cx="284" cy="155.8" r="5.7" fill="#050505" opacity="0.35"/>
<circle cx="284" cy="155.8" r="4.9" fill="url(#sg20)"/>
<circle cx="241" cy="162" r="7.7" fill="#050505" opacity="0.35"/>
<circle cx="241" cy="162" r="6.9" fill="url(#sg21)"/>
<circle cx="383.8" cy="106" r="7.7" fill="#050505" opacity="0.35"/>
<circle cx="383.8" cy="106" r="6.9" fill="url(#sg22)"/>
<circle cx="410" cy="140" r="7.7" fill="#050505" opacity="0.35"/>
<circle cx="410" cy="140" r="6.9" fill="url(#sg23)"/>
<circle cx="403.8" cy="168.8" r="12.5" fill="#050505" opacity="0.35"/>
<circle cx="403.8" cy="168.8" r="11.7" fill="url(#sg24)"/>
<circle cx="326.5" cy="33.8" r="10.2" fill="#050505" opacity="0.35"/>
<circle cx="326.5" cy="33.8" r="9.4" fill="url(#sg25)"/>
<circle cx="321" cy="54.6" r="9.4" fill="#050505" opacity="0.35"/>
<circle cx="321" cy="54.6" r="8.6" fill="url(#sg26)"/>
<circle cx="289.5" cy="57.7" r="9.4" fill="#050505" opacity="0.35"/>
<circle cx="289.5" cy="57.7" r="8.6" fill="url(#sg27)"/>
<circle cx="251" cy="96" r="9.4" fill="#050505" opacity="0.35"/>
<circle cx="251" cy="96" r="8.6" fill="url(#sg28)"/>
<circle cx="405.4" cy="31.5" r="11.7" fill="#050505" opacity="0.35"/>
<circle cx="405.4" cy="31.5" r="10.9" fill="url(#sg29)"/>
<circle cx="339" cy="94.6" r="7.7" fill="#050505" opacity="0.35"/>
<circle cx="339" cy="94.6" r="6.9" fill="url(#sg30)"/>
<circle cx="299.5" cy="37.6" r="10.9" fill="#050505" opacity="0.35"/>
<circle cx="299.5" cy="37.6" r="10.1" fill="url(#sg31)"/>
<circle cx="291.8" cy="75.4" r="10.9" fill="#050505" opacity="0.35"/>
<circle cx="291.8" cy="75.4" r="10.1" fill="url(#sg32)"/>
<circle cx="299.5" cy="135.5" r="11.7" fill="#050505" opacity="0.35"/>
<circle cx="299.5" cy="135.5" r="10.9" fill="url(#sg33)"/>
<circle cx="273.4" cy="159.6" r="7.1" fill="#050505" opacity="0.35"/>
<circle cx="273.4" cy="159.6" r="6.3" fill="url(#sg34)"/>
<circle cx="285.7" cy="165.8" r="8.7" fill="#050505" opacity="0.35"/>
<circle cx="285.7" cy="165.8" r="7.9" fill="url(#sg35)"/>
<circle cx="249.5" cy="173.5" r="9.4" fill="#050505" opacity="0.35"/>
<circle cx="249.5" cy="173.5" r="8.6" fill="url(#sg36)"/>
<circle cx="333.4" cy="167.3" r="8.7" fill="#050505" opacity="0.35"/>
<circle cx="333.4" cy="167.3" r="7.9" fill="url(#sg37)"/>
<circle cx="377.7" cy="33" r="13.2" fill="#050505" opacity="0.35"/>
<circle cx="377.7" cy="33" r="12.4" fill="url(#sg38)"/>
<circle cx="343.8" cy="141.6" r="8.7" fill="#050505" opacity="0.35"/>
<circle cx="343.8" cy="141.6" r="7.9" fill="url(#sg39)"/>
<circle cx="365.4" cy="172.7" r="15.5" fill="#050505" opacity="0.35"/>
<circle cx="365.4" cy="172.7" r="14.7" fill="url(#sg40)"/>
<circle cx="331.5" cy="85.4" r="7.7" fill="#050505" opacity="0.35"/>
<circle cx="331.5" cy="85.4" r="6.9" fill="url(#sg41)"/>
<circle cx="274.2" cy="172.7" r="8.7" fill="#050505" opacity="0.35"/>
<circle cx="274.2" cy="172.7" r="7.9" fill="url(#sg42)"/>
<circle cx="400.8" cy="13.8" r="12.5" fill="#050505" opacity="0.35"/>
<circle cx="400.8" cy="13.8" r="11.7" fill="url(#sg43)"/>
<circle cx="357.7" cy="49" r="12.7" fill="#050505" opacity="0.35"/>
<circle cx="357.7" cy="49" r="11.9" fill="url(#sg44)"/>
<circle cx="359.2" cy="158" r="11.7" fill="#050505" opacity="0.35"/>
<circle cx="359.2" cy="158" r="10.9" fill="url(#sg45)"/>
<circle cx="337.7" cy="165.8" r="10.7" fill="#050505" opacity="0.35"/>
<circle cx="337.7" cy="165.8" r="9.9" fill="url(#sg46)"/>
<circle cx="248.8" cy="15.3" r="10.9" fill="#050505" opacity="0.35"/>
<circle cx="248.8" cy="15.3" r="10.1" fill="url(#sg47)"/>
<circle cx="245" cy="70" r="8.7" fill="#050505" opacity="0.35"/>
<circle cx="245" cy="70" r="7.9" fill="url(#sg48)"/>
<circle cx="325.7" cy="83.8" r="12.5" fill="#050505" opacity="0.35"/>
<circle cx="325.7" cy="83.8" r="11.7" fill="url(#sg49)"/>
<circle cx="257.2" cy="149.6" r="10.9" fill="#050505" opacity="0.35"/>
<circle cx="257.2" cy="149.6" r="10.1" fill="url(#sg50)"/>
<circle cx="316.5" cy="162" r="10.2" fill="#050505" opacity="0.35"/>
<circle cx="316.5" cy="162" r="9.4" fill="url(#sg51)"/>
<circle cx="365.4" cy="76" r="6.7" fill="#050505" opacity="0.35"/>
<circle cx="365.4" cy="76" r="5.9" fill="url(#sg52)"/>
<circle cx="370" cy="96" r="7.7" fill="#050505" opacity="0.35"/>
<circle cx="370" cy="96" r="6.9" fill="url(#sg53)"/>
<circle cx="366" cy="103" r="10.9" fill="#050505" opacity="0.35"/>
<circle cx="366" cy="103" r="10.1" fill="url(#sg54)"/>
<circle cx="331.5" cy="134" r="6.7" fill="#050505" opacity="0.35"/>
<circle cx="331.5" cy="134" r="5.9" fill="url(#sg55)"/>
<circle cx="348.5" cy="141" r="10.7" fill="#050505" opacity="0.35"/>
<circle cx="348.5" cy="141" r="9.9" fill="url(#sg56)"/>
<circle cx="411.5" cy="139.6" r="7.7" fill="#050505" opacity="0.35"/>
<circle cx="411.5" cy="139.6" r="6.9" fill="url(#sg57)"/>
<circle cx="244.2" cy="31.5" r="7.7" fill="#050505" opacity="0.35"/>
<circle cx="244.2" cy="31.5" r="6.9" fill="url(#sg58)"/>
<circle cx="420.8" cy="83.8" r="9.4" fill="#050505" opacity="0.35"/>
<circle cx="420.8" cy="83.8" r="8.6" fill="url(#sg59)"/>
<circle cx="394.6" cy="133" r="12.5" fill="#050505" opacity="0.35"/>
<circle cx="394.6" cy="133" r="11.7" fill="url(#sg60)"/>
<circle cx="274.2" cy="9.9" r="10.2" fill="#050505" opacity="0.35"/>
<circle cx="274.2" cy="9.9" r="9.4" fill="url(#sg61)"/>
<circle cx="263.4" cy="164.2" r="10.2" fill="#050505" opacity="0.35"/>
<circle cx="263.4" cy="164.2" r="9.4" fill="url(#sg62)"/>
<circle cx="374.6" cy="15.3" r="9.4" fill="#050505" opacity="0.35"/>
<circle cx="374.6" cy="15.3" r="8.6" fill="url(#sg63)"/>
<circle cx="358.5" cy="31.5" r="10.9" fill="#050505" opacity="0.35"/>
<circle cx="358.5" cy="31.5" r="10.1" fill="url(#sg64)"/>
<circle cx="353" cy="68.5" r="10.9" fill="#050505" opacity="0.35"/>
<circle cx="353" cy="68.5" r="10.1" fill="url(#sg65)"/>
<circle cx="351.5" cy="88.5" r="7.1" fill="#050505" opacity="0.35"/>
<circle cx="351.5" cy="88.5" r="6.3" fill="url(#sg66)"/>
<circle cx="402.3" cy="95.4" r="10.9" fill="#050505" opacity="0.35"/>
<circle cx="402.3" cy="95.4" r="10.1" fill="url(#sg67)"/>
<circle cx="423.8" cy="119.3" r="7.7" fill="#050505" opacity="0.35"/>
<circle cx="423.8" cy="119.3" r="6.9" fill="url(#sg68)"/>
<circle cx="266.7" cy="49" r="12.5" fill="#050505" opacity="0.35"/>
<circle cx="266.7" cy="49" r="11.7" fill="url(#sg69)"/>
<circle cx="295" cy="151.2" r="10.9" fill="#050505" opacity="0.35"/>
<circle cx="295" cy="151.2" r="10.1" fill="url(#sg70)"/>
<circle cx="358.5" cy="16.8" r="10.9" fill="#050505" opacity="0.35"/>
<circle cx="358.5" cy="16.8" r="10.1" fill="url(#sg71)"/>
<circle cx="405.4" cy="104.7" r="14.7" fill="#050505" opacity="0.35"/>
<circle cx="405.4" cy="104.7" r="13.9" fill="url(#sg72)"/>
<circle cx="336" cy="152" r="10.2" fill="#050505" opacity="0.35"/>
<circle cx="336" cy="152" r="9.4" fill="url(#sg73)"/>
<circle cx="241" cy="23" r="6.7" fill="#050505" opacity="0.35"/>
<circle cx="241" cy="23" r="5.9" fill="url(#sg74)"/>
<circle cx="338.5" cy="17.6" r="10.2" fill="#050505" opacity="0.35"/>
<circle cx="338.5" cy="17.6" r="9.4" fill="url(#sg75)"/>
<circle cx="305.5" cy="53" r="11.2" fill="#050505" opacity="0.35"/>
<circle cx="305.5" cy="53" r="10.4" fill="url(#sg76)"/>
<circle cx="273.5" cy="93" r="15.7" fill="#050505" opacity="0.35"/>
<circle cx="273.5" cy="93" r="14.9" fill="url(#sg77)"/>
<circle cx="241.8" cy="120" r="7.7" fill="#050505" opacity="0.35"/>
<circle cx="241.8" cy="120" r="6.9" fill="url(#sg78)"/>
<circle cx="327.2" cy="132.4" r="7.7" fill="#050505" opacity="0.35"/>
<circle cx="327.2" cy="132.4" r="6.9" fill="url(#sg79)"/>
<circle cx="371" cy="139" r="14.7" fill="#050505" opacity="0.35"/>
<circle cx="371" cy="139" r="13.9" fill="url(#sg80)"/>
<circle cx="410.8" cy="129.3" r="7.7" fill="#050505" opacity="0.35"/>
<circle cx="410.8" cy="129.3" r="6.9" fill="url(#sg81)"/>
<circle cx="309.5" cy="89.2" r="7.1" fill="#050505" opacity="0.35"/>
<circle cx="309.5" cy="89.2" r="6.3" fill="url(#sg82)"/>
<circle cx="308.8" cy="105.5" r="13.2" fill="#050505" opacity="0.35"/>
<circle cx="308.8" cy="105.5" r="12.4" fill="url(#sg83)"/>
<circle cx="321.8" cy="154.2" r="7.7" fill="#050505" opacity="0.35"/>
<circle cx="321.8" cy="154.2" r="6.9" fill="url(#sg84)"/>
<circle cx="421.5" cy="65.4" r="8.7" fill="#050505" opacity="0.35"/>
<circle cx="421.5" cy="65.4" r="7.9" fill="url(#sg85)"/>
<circle cx="370" cy="87" r="9.4" fill="#050505" opacity="0.35"/>
<circle cx="370" cy="87" r="8.6" fill="url(#sg86)"/>
<circle cx="423.8" cy="156.5" r="7.7" fill="#050505" opacity="0.35"/>
<circle cx="423.8" cy="156.5" r="6.9" fill="url(#sg87)"/>
<circle cx="258" cy="10.7" r="7.7" fill="#050505" opacity="0.35"/>
<circle cx="258" cy="10.7" r="6.9" fill="url(#sg88)"/>
<circle cx="299.5" cy="11.5" r="10.2" fill="#050505" opacity="0.35"/>
<circle cx="299.5" cy="11.5" r="9.4" fill="url(#sg89)"/>
<circle cx="324.2" cy="13" r="10.9" fill="#050505" opacity="0.35"/>
<circle cx="324.2" cy="13" r="10.1" fill="url(#sg90)"/>
<circle cx="282.6" cy="46" r="8.2" fill="#050505" opacity="0.35"/>
<circle cx="282.6" cy="46" r="7.4" fill="url(#sg91)"/>
<circle cx="278" cy="68.5" r="9.4" fill="#050505" opacity="0.35"/>
<circle cx="278" cy="68.5" r="8.6" fill="url(#sg92)"/>
<circle cx="298" cy="88.5" r="9.4" fill="#050505" opacity="0.35"/>
<circle cx="298" cy="88.5" r="8.6" fill="url(#sg93)"/>
<circle cx="253.4" cy="129.3" r="10.9" fill="#050505" opacity="0.35"/>
<circle cx="253.4" cy="129.3" r="10.1" fill="url(#sg94)"/>
<circle cx="388.5" cy="153.5" r="8.7" fill="#050505" opacity="0.35"/>
<circle cx="388.5" cy="153.5" r="7.9" fill="url(#sg95)"/>
<circle cx="322.6" cy="141.4" r="7.7" fill="#050505" opacity="0.35"/>
<circle cx="322.6" cy="141.4" r="6.9" fill="url(#sg96)"/>
<circle cx="415.4" cy="72.3" r="5.7" fill="#050505" opacity="0.35"/>
<circle cx="415.4" cy="72.3" r="4.9" fill="url(#sg97)"/>
<circle cx="310.3" cy="26" r="14.0" fill="#050505" opacity="0.35"/>
<circle cx="310.3" cy="26" r="13.2" fill="url(#sg98)"/>
<circle cx="383.8" cy="7.6" r="5.7" fill="#050505" opacity="0.35"/>
<circle cx="383.8" cy="7.6" r="4.9" fill="url(#sg99)"/>
<circle cx="398.5" cy="76.2" r="16.3" fill="#050505" opacity="0.35"/>
<circle cx="398.5" cy="76.2" r="15.5" fill="url(#sg100)"/>
<circle cx="351.5" cy="120" r="16.3" fill="#050505" opacity="0.35"/>
<circle cx="351.5" cy="120" r="15.5" fill="url(#sg101)"/>
</g></g>
<rect x="388.4" y="165.2" width="33.6" height="3" fill="#fff"/>
<text x="442.9" y="20.0" font-size="11.9" font-family="'Liberation Sans', sans-serif" font-weight="bold" fill="#111">(c)</text>
<rect x="458.6" y="5.4" width="174.79999999999995" height="175.0" fill="#d8d8d8"/>
<g style="isolation:isolate" filter="url(#tblur)">
<circle cx="507" cy="54.5" r="15.4" fill="url(#tg0)" style="mix-blend-mode:multiply"/>
<circle cx="525.4" cy="64.1" r="12.2" fill="url(#tg1)" style="mix-blend-mode:multiply"/>
<circle cx="497" cy="87.8" r="18.4" fill="url(#tg2)" style="mix-blend-mode:multiply"/>
<circle cx="524.5" cy="87" r="14.2" fill="url(#tg3)" style="mix-blend-mode:multiply"/>
<circle cx="523.8" cy="100" r="12.2" fill="url(#tg4)" style="mix-blend-mode:multiply"/>
<circle cx="523" cy="110" r="14.2" fill="url(#tg5)" style="mix-blend-mode:multiply"/>
<circle cx="547.5" cy="74" r="13.2" fill="url(#tg6)" style="mix-blend-mode:multiply"/>
<circle cx="579.1" cy="80.1" r="21.2" fill="url(#tg7)" style="mix-blend-mode:multiply"/>
<circle cx="553.7" cy="109" r="17" fill="url(#tg8)" style="mix-blend-mode:multiply"/>
<circle cx="546" cy="92" r="8.7" fill="url(#tg9)" style="mix-blend-mode:multiply"/>
<circle cx="523" cy="139.4" r="17.2" fill="url(#tg10)" style="mix-blend-mode:multiply"/>
</g>
<rect x="590.2" y="162.9" width="30" height="3" fill="#000"/>
<rect x="46.2" y="195.05" width="242.90000000000003" height="194.75" fill="none" stroke="#111" stroke-width="1.4"/>
<line x1="52.3" y1="389.8" x2="52.3" y2="393.5" stroke="#111" stroke-width="1.1"/>
<text x="52.3" y="402.9" font-size="8.4" text-anchor="middle" font-family="'Liberation Sans', sans-serif" font-weight="bold" fill="#000">0.0</text>
<line x1="111.4" y1="389.8" x2="111.4" y2="393.5" stroke="#111" stroke-width="1.1"/>
<text x="111.4" y="402.9" font-size="8.4" text-anchor="middle" font-family="'Liberation Sans', sans-serif" font-weight="bold" fill="#000">0.5</text>
<line x1="170.5" y1="389.8" x2="170.5" y2="393.5" stroke="#111" stroke-width="1.1"/>
<text x="170.5" y="402.9" font-size="8.4" text-anchor="middle" font-family="'Liberation Sans', sans-serif" font-weight="bold" fill="#000">1.0</text>
<line x1="229.6" y1="389.8" x2="229.6" y2="393.5" stroke="#111" stroke-width="1.1"/>
<text x="229.6" y="402.9" font-size="8.4" text-anchor="middle" font-family="'Liberation Sans', sans-serif" font-weight="bold" fill="#000">1.5</text>
<line x1="288.7" y1="389.8" x2="288.7" y2="393.5" stroke="#111" stroke-width="1.1"/>
<text x="288.7" y="402.9" font-size="8.4" text-anchor="middle" font-family="'Liberation Sans', sans-serif" font-weight="bold" fill="#000">2.0</text>
<line x1="81.8" y1="389.8" x2="81.8" y2="392.2" stroke="#111" stroke-width="1.1"/>
<line x1="140.9" y1="389.8" x2="140.9" y2="392.2" stroke="#111" stroke-width="1.1"/>
<line x1="200.1" y1="389.8" x2="200.1" y2="392.2" stroke="#111" stroke-width="1.1"/>
<line x1="259.1" y1="389.8" x2="259.1" y2="392.2" stroke="#111" stroke-width="1.1"/>
<polyline clip-path="url(#dclip)" points="50.6,277.5 50.9,99.6 51.4,100.1 51.9,99.8 52.4,100.2 52.9,100.2 53.4,99.3 53.9,99.2 54.4,100.5 54.9,99.6 55.4,217.2 55.9,314.1 56.4,352.2 56.9,368.8 57.4,375.0 57.9,378.2 58.4,378.8 58.9,380.3 59.4,381.1 59.9,380.8 60.4,381.4 60.9,381.4 61.4,380.6 61.9,381.8 62.4,381.6 62.9,381.2 63.4,380.8 63.9,381.6 64.4,381.0 64.9,381.4 65.4,381.6 65.9,381.3 66.4,381.7 66.9,380.8 67.4,381.5 67.9,380.9 68.4,381.7 68.9,381.6 69.4,380.4 69.9,380.4 70.4,380.5 70.9,381.7 71.4,380.9 71.9,381.1 72.4,380.5 72.9,380.8 73.4,380.4 73.9,379.9 74.4,379.7 74.9,378.8 75.4,377.9 75.9,375.4 76.4,372.8 76.9,368.4 77.4,363.0 77.9,355.1 78.4,345.1 78.9,335.3 79.4,322.8 79.9,308.9 80.4,293.9 80.9,279.9 81.4,265.9 81.9,255.8 82.4,247.3 82.9,242.4 83.4,241.6 83.9,246.6 84.4,254.2 84.9,263.3 85.4,277.2 85.9,290.7 86.4,304.8 86.9,319.1 87.4,332.7 87.9,344.2 88.4,352.4 88.9,361.0 89.4,366.1 89.9,371.7 90.4,374.4 90.9,377.5 91.4,379.2 91.9,379.5 92.4,380.9 92.9,380.2 93.4,380.0 93.9,381.0 94.4,380.2 94.9,380.5 95.4,380.8 95.9,381.2 96.4,380.4 96.9,380.3 97.4,381.6 97.9,380.7 98.4,381.7 98.9,381.6 99.4,380.8 99.9,380.9 100.4,381.0 100.9,381.2 101.4,381.1 101.9,381.1 102.4,381.1 102.9,381.6 103.4,380.8 103.9,380.6 104.4,380.9 104.9,379.8 105.4,379.5 105.9,380.0 106.4,378.4 106.9,377.3 107.4,375.0 107.9,373.7 108.4,371.7 108.9,368.1 109.4,365.9 109.9,362.6 110.4,358.3 110.9,355.9 111.4,352.5 111.9,350.3 112.4,348.0 112.9,347.5 113.4,347.5 113.9,347.1 114.4,348.9 114.9,352.3 115.4,355.8 115.9,357.9 116.4,361.7 116.9,365.3 117.4,368.0 117.9,370.8 118.4,373.1 118.9,375.2 119.4,377.1 119.9,377.9 120.4,378.9 120.9,380.2 121.4,379.4 121.9,380.6 122.4,381.0 122.9,380.4 123.4,380.3 123.9,381.1 124.4,380.0 124.9,379.6 125.4,379.6 125.9,379.3 126.4,377.4 126.9,376.5 127.4,375.0 127.9,373.8 128.4,370.9 128.9,369.1 129.4,365.3 129.9,362.9 130.4,360.9 130.9,359.2 131.4,356.9 131.9,355.7 132.4,355.5 132.9,356.8 133.4,357.7 133.9,360.7 134.4,363.2 134.9,364.8 135.4,367.6 135.9,371.1 136.4,373.1 136.9,375.4 137.4,376.3 137.9,377.3 138.4,378.5 138.9,380.0 139.4,379.7 139.9,380.2 140.4,380.5 140.9,380.7 141.4,380.7 141.9,381.6 142.4,380.4 142.9,380.2 143.4,381.7 143.9,381.6 144.4,381.8 144.9,380.9 145.4,381.7 145.9,381.7 146.4,380.6 146.9,381.4 147.4,381.5 147.9,381.3 148.4,381.0 148.9,380.7 149.4,380.7 149.9,380.6 150.4,380.3 150.9,381.1 151.4,380.7 151.9,381.5 152.4,380.3 152.9,381.6 153.4,381.3 153.9,381.7 154.4,381.6 154.9,381.6 155.4,381.1 155.9,380.2 156.4,381.4 156.9,380.5 157.4,380.7 157.9,381.3 158.4,381.0 158.9,380.9 159.4,381.7 159.9,381.2 160.4,380.7 160.9,380.6 161.4,381.6 161.9,381.0 162.4,381.5 162.9,380.8 163.4,380.5 163.9,381.1 164.4,381.5 164.9,380.5 165.4,381.5 165.9,381.7 166.4,381.5 166.9,381.5 167.4,380.2 167.9,381.2 168.4,381.6 168.9,380.3 169.4,380.6 169.9,380.6 170.4,381.0 170.9,380.9 171.4,381.0 171.9,381.4 172.4,380.2 172.9,380.3 173.4,380.4 173.9,380.4 174.4,380.3 174.9,381.8 175.4,381.6 175.9,380.3 176.4,381.0 176.9,380.7 177.4,380.7 177.9,380.8 178.4,381.2 178.9,381.1 179.4,380.8 179.9,380.5 180.4,380.7 180.9,380.4 181.4,381.1 181.9,381.3 182.4,380.8 182.9,380.3 183.4,380.5 183.9,380.8 184.4,381.2 184.9,381.5 185.4,380.8 185.9,381.5 186.4,381.2 186.9,380.9 187.4,380.8 187.9,381.0 188.4,381.3 188.9,380.9 189.4,381.3 189.9,380.9 190.4,380.6 190.9,381.1 191.4,381.3 191.9,380.3 192.4,380.9 192.9,380.9 193.4,381.6 193.9,381.7 194.4,380.8 194.9,381.6 195.4,381.5 195.9,380.6 196.4,380.9 196.9,380.4 197.4,381.5 197.9,381.3 198.4,381.6 198.9,381.5 199.4,381.3 199.9,381.4 200.4,381.1 200.9,380.4 201.4,381.1 201.9,380.2 202.4,380.4 202.9,381.4 203.4,380.3 203.9,380.3 204.4,380.4 204.9,381.6 205.4,380.5 205.9,380.2 206.4,381.5 206.9,380.4 207.4,381.6 207.9,381.3 208.4,381.5 208.9,381.7 209.4,381.1 209.9,381.5 210.4,380.3 210.9,381.4 211.4,381.0 211.9,381.3 212.4,380.4 212.9,381.4 213.4,381.7 213.9,380.3 214.4,380.7 214.9,381.1 215.4,381.5 215.9,380.6 216.4,380.5 216.9,380.6 217.4,381.2 217.9,381.4 218.4,380.8 218.9,380.8 219.4,380.8 219.9,380.8 220.4,380.9 220.9,380.3 221.4,381.0 221.9,381.8 222.4,380.9 222.9,381.4 223.4,380.5 223.9,381.3 224.4,381.4 224.9,381.3 225.4,381.0 225.9,381.0 226.4,381.2 226.9,381.6 227.4,380.4 227.9,380.4 228.4,381.4 228.9,381.7 229.4,381.0 229.9,380.9 230.4,381.4 230.9,380.5 231.4,380.6 231.9,380.5 232.4,381.1 232.9,380.7 233.4,380.6 233.9,381.3 234.4,381.7 234.9,380.7 235.4,381.3 235.9,380.9 236.4,381.6 236.9,381.1 237.4,380.6 237.9,380.5 238.4,380.2 238.9,381.0 239.4,380.8 239.9,380.5 240.4,380.8 240.9,380.7 241.4,381.4 241.9,380.4 242.4,381.8 242.9,381.0 243.4,381.1 243.9,380.9 244.4,381.5 244.9,381.4 245.4,381.0 245.9,380.8 246.4,381.1 246.9,381.3 247.4,380.4 247.9,380.7 248.4,380.9 248.9,379.7 249.4,378.9 249.9,378.4 250.4,378.5 250.9,377.6 251.4,377.1 251.9,375.7 252.4,373.3 252.9,371.6 253.4,369.9 253.9,367.8 254.4,366.4 254.9,364.4 255.4,362.1 255.9,358.7 256.4,357.3 256.9,354.3 257.4,352.5 257.9,351.3 258.4,348.9 258.9,347.9 259.4,348.6 259.9,347.7 260.4,348.2 260.9,349.4 261.4,350.9 261.9,351.4 262.4,353.9 262.9,356.2 263.4,358.6 263.9,360.5 264.4,363.5 264.9,366.4 265.4,367.7 265.9,370.0 266.4,371.1 266.9,373.0 267.4,375.1 267.9,375.5 268.4,377.8 268.9,378.7 269.4,378.1 269.9,380.0 270.4,379.5 270.9,380.5 271.4,380.7 271.9,380.2 272.4,380.9 272.9,381.0 273.4,381.3 273.9,380.5 274.4,381.3 274.9,381.7 275.4,381.2 275.9,381.0 276.4,380.4 276.9,381.0 277.4,380.8 277.9,381.3 278.4,381.3 278.9,381.1 279.4,380.5 279.9,381.2 280.4,381.2 280.9,380.5 281.4,381.6 281.9,381.2 282.4,380.4 282.9,381.7 283.4,380.4 283.9,380.7 284.4,381.4 284.9,381.2 285.4,381.1 285.9,381.2 286.4,380.9 286.9,380.7 287.4,380.5 287.9,380.3 288.4,381.3" fill="none" stroke="#000" stroke-width="1.4" stroke-linejoin="round"/>
<text x="83.2" y="223.5" font-size="9.1" text-anchor="middle" font-family="'Liberation Sans', sans-serif" font-weight="bold" fill="#000">C</text>
<line x1="83.2" y1="226.5" x2="83.2" y2="240.5" stroke="#888" stroke-width="0.7"/>
<text x="113.8" y="332.2" font-size="9.1" text-anchor="middle" font-family="'Liberation Sans', sans-serif" font-weight="bold" fill="#000">O</text>
<line x1="113.8" y1="334.0" x2="113.8" y2="344.5" stroke="#888" stroke-width="0.7"/>
<text x="132.8" y="337.5" font-size="9.1" text-anchor="middle" font-family="'Liberation Sans', sans-serif" font-weight="bold" fill="#000">F</text>
<line x1="132.8" y1="339.5" x2="132.8" y2="353" stroke="#888" stroke-width="0.7"/>
<text x="259.7" y="332.6" font-size="9.1" text-anchor="middle" font-family="'Liberation Sans', sans-serif" font-weight="bold" fill="#000">Si</text>
<line x1="259.7" y1="334.6" x2="259.7" y2="344.4" stroke="#888" stroke-width="0.7"/>
<text x="269.0" y="208.6" font-size="11.9" font-family="'Liberation Sans', sans-serif" font-weight="bold" fill="#111">(d)</text>
<text x="127.6" y="424" font-size="12.0" font-family="'Liberation Sans', sans-serif" font-weight="bold" fill="#111">Energy / [keV]</text>
<line x1="208.6" y1="419.5" x2="250" y2="419.5" stroke="#222" stroke-width="1.2"/>
<path d="M257.4,419.5 L248.3,416.8 L248.3,422.2 Z" fill="#222"/>
<text transform="translate(30.3,328.9) rotate(-90)" font-size="11.1" font-family="'Liberation Sans', sans-serif" font-weight="bold" fill="#111">Intensity / [a.u.]</text>
<line x1="27.2" y1="241.5" x2="27.2" y2="214" stroke="#222" stroke-width="1.1"/>
<path d="M27.2,206.9 L24.4,217.4 L30,217.4 Z" fill="#222"/>
<rect x="386.9" y="197.5" width="246.1" height="194.9" fill="#ebebeb"/>
<rect x="385.4" y="383.9" width="248.60000000000002" height="1.3" fill="#f8f8f8"/>
<circle cx="503" cy="270.5" r="41.5" fill="url(#esph)" filter="url(#eblur)"/>
<line x1="386" y1="271.5" x2="633.4" y2="271.5" stroke="#62adae" stroke-width="1.6"/>
<g clip-path="url(#eclip)">
<polyline points="385.70,383.7 385.95,383.7 386.20,383.7 386.45,374.1 386.70,383.7 386.95,383.7 387.20,374.1 387.45,364.5 387.70,383.7 387.95,374.1 388.20,383.7 388.45,378.9 388.70,383.7 388.95,369.3 389.20,374.1 389.45,374.1 389.70,374.1 389.95,378.9 390.20,383.7 390.45,374.1 390.70,383.7 390.95,378.9 391.20,369.3 391.45,383.7 391.70,378.9 391.95,374.1 392.20,378.9 392.45,383.7 392.70,383.7 392.95,374.1 393.20,378.9 393.45,378.9 393.70,378.9 393.95,383.7 394.20,383.7 394.45,383.7 394.70,374.1 394.95,378.9 395.20,383.7 395.45,383.7 395.70,378.9 395.95,378.9 396.20,383.7 396.45,378.9 396.70,383.7 396.95,383.7 397.20,383.7 397.45,383.7 397.70,378.9 397.95,383.7 398.20,383.7 398.45,383.7 398.70,383.7 398.95,378.9 399.20,383.7 399.45,383.7 399.70,378.9 399.95,369.3 400.20,383.7 400.45,374.1 400.70,359.7 400.95,378.9 401.20,383.7 401.45,369.3 401.70,383.7 401.95,378.9 402.20,374.1 402.45,378.9 402.70,383.7 402.95,383.7 403.20,383.7 403.45,378.9 403.70,369.3 403.95,383.7 404.20,383.7 404.45,364.5 404.70,374.1 404.95,378.9 405.20,383.7 405.45,374.1 405.70,383.7 405.95,378.9 406.20,383.7 406.45,378.9 406.70,383.7 406.95,378.9 407.20,383.7 407.45,378.9 407.70,378.9 407.95,383.7 408.20,383.7 408.45,378.9 408.70,378.9 408.95,383.7 409.20,378.9 409.45,383.7 409.70,383.7 409.95,374.1 410.20,383.7 410.45,383.7 410.70,378.9 410.95,383.7 411.20,383.7 411.45,378.9 411.70,378.9 411.95,378.9 412.20,383.7 412.45,383.7 412.70,378.9 412.95,383.7 413.20,383.7 413.45,378.9 413.70,374.1 413.95,378.9 414.20,378.9 414.45,383.7 414.70,383.7 414.95,378.9 415.20,383.7 415.45,383.7 415.70,378.9 415.95,378.9 416.20,383.7 416.45,378.9 416.70,378.9 416.95,383.7 417.20,383.7 417.45,378.9 417.70,378.9 417.95,378.9 418.20,378.9 418.45,374.1 418.70,383.7 418.95,369.3 419.20,383.7 419.45,369.3 419.70,383.7 419.95,383.7 420.20,383.7 420.45,378.9 420.70,383.7 420.95,374.1 421.20,383.7 421.45,383.7 421.70,383.7 421.95,383.7 422.20,383.7 422.45,378.9 422.70,378.9 422.95,378.9 423.20,383.7 423.45,383.7 423.70,378.9 423.95,374.1 424.20,378.9 424.45,374.1 424.70,378.9 424.95,378.9 425.20,378.9 425.45,378.9 425.70,374.1 425.95,383.7 426.20,374.1 426.45,383.7 426.70,378.9 426.95,378.9 427.20,369.3 427.45,383.7 427.70,383.7 427.95,383.7 428.20,383.7 428.45,383.7 428.70,378.9 428.95,378.9 429.20,383.7 429.45,378.9 429.70,383.7 429.95,374.1 430.20,378.9 430.45,383.7 430.70,383.7 430.95,383.7 431.20,378.9 431.45,374.1 431.70,378.9 431.95,374.1 432.20,374.1 432.45,378.9 432.70,374.1 432.95,374.1 433.20,383.7 433.45,374.1 433.70,378.9 433.95,383.7 434.20,383.7 434.45,383.7 434.70,378.9 434.95,383.7 435.20,383.7 435.45,378.9 435.70,383.7 435.95,383.7 436.20,378.9 436.45,383.7 436.70,374.1 436.95,374.1 437.20,383.7 437.45,378.9 437.70,383.7 437.95,374.1 438.20,378.9 438.45,378.9 438.70,383.7 438.95,383.7 439.20,378.9 439.45,383.7 439.70,378.9 439.95,374.1 440.20,383.7 440.45,378.9 440.70,383.7 440.95,383.7 441.20,383.7 441.45,374.1 441.70,383.7 441.95,383.7 442.20,378.9 442.45,374.1 442.70,374.1 442.95,378.9 443.20,378.9 443.45,378.9 443.70,383.7 443.95,374.1 444.20,383.7 444.45,359.7 444.70,378.9 444.95,378.9 445.20,383.7 445.45,383.7 445.70,378.9 445.95,378.9 446.20,378.9 446.45,374.1 446.70,378.9 446.95,374.1 447.20,383.7 447.45,378.9 447.70,383.7 447.95,378.9 448.20,378.9 448.45,378.9 448.70,374.1 448.95,383.7 449.20,383.7 449.45,383.7 449.70,378.9 449.95,374.1 450.20,374.1 450.45,383.7 450.70,383.7 450.95,378.9 451.20,383.7 451.45,374.1 451.70,378.9 451.95,383.7 452.20,369.3 452.45,383.7 452.70,378.9 452.95,378.9 453.20,374.1 453.45,374.1 453.70,383.7 453.95,383.7 454.20,383.7 454.45,378.9 454.70,383.7 454.95,383.7 455.20,378.9 455.45,383.7 455.70,383.7 455.95,378.9 456.20,383.7 456.45,383.7 456.70,383.7 456.95,383.7 457.20,378.9 457.45,374.1 457.70,383.7 457.95,378.9 458.20,383.7 458.45,378.9 458.70,369.3 458.95,374.1 459.20,383.7 459.45,383.7 459.70,374.1 459.95,374.1 460.20,383.7 460.45,378.9 460.70,378.9 460.95,383.7 461.20,378.9 461.45,378.9 461.70,383.7 461.95,374.1 462.20,378.9 462.45,383.7 462.70,378.9 462.95,378.9 463.20,374.1 463.45,378.9 463.70,383.7 463.95,378.9 464.20,378.9 464.45,369.3 464.70,378.9 464.95,383.7 465.20,374.1 465.45,383.7 465.70,378.9 465.95,374.1 466.20,383.7 466.45,378.9 466.70,383.7 466.95,383.7 467.20,378.9 467.45,378.9 467.70,374.1 467.95,383.7 468.20,374.1 468.45,364.5 468.70,383.7 468.95,378.9 469.20,378.9 469.45,383.7 469.70,383.7 469.95,383.7 470.20,383.7 470.45,378.9 470.70,378.9 470.95,354.9 471.20,374.1 471.45,383.7 471.70,378.9 471.95,378.9 472.20,374.1 472.45,378.9 472.70,359.7 472.95,364.5 473.20,374.1 473.45,374.1 473.70,383.7 473.95,374.1 474.20,359.7 474.45,354.9 474.70,330.9 474.95,374.1 475.20,350.1 475.45,350.1 475.70,354.9 475.95,350.1 476.20,326.1 476.45,364.5 476.70,354.9 476.95,321.3 477.20,330.9 477.45,350.1 477.70,311.7 477.95,316.5 478.20,278.1 478.45,354.9 478.70,316.5 478.95,345.3 479.20,326.1 479.45,292.5 479.70,297.3 479.95,297.3 480.20,321.3 480.45,335.7 480.70,321.3 480.95,292.5 481.20,292.5 481.45,297.3 481.70,326.1 481.95,306.9 482.20,321.3 482.45,316.5 482.70,311.7 482.95,330.9 483.20,330.9 483.45,316.5 483.70,297.3 483.95,330.9 484.20,276.0 484.45,276.0 484.70,326.1 484.95,311.7 485.20,292.5 485.45,282.9 485.70,326.1 485.95,311.7 486.20,302.1 486.45,297.3 486.70,316.5 486.95,330.9 487.20,326.1 487.45,345.3 487.70,330.9 487.95,335.7 488.20,311.7 488.45,326.1 488.70,311.7 488.95,282.9 489.20,275.0 489.45,275.0 489.70,297.3 489.95,326.1 490.20,287.7 490.45,316.5 490.70,273.3 490.95,316.5 491.20,306.9 491.45,330.9 491.70,354.9 491.95,330.9 492.20,282.9 492.45,340.5 492.70,321.3 492.95,335.7 493.20,306.9 493.45,287.7 493.70,297.3 493.95,287.7 494.20,297.3 494.45,316.5 494.70,302.1 494.95,253.0 495.20,253.0 495.45,253.0 495.70,316.5 495.95,340.5 496.20,354.9 496.45,354.9 496.70,292.5 496.95,297.3 497.20,330.9 497.45,316.5 497.70,316.5 497.95,316.5 498.20,311.7 498.45,316.5 498.70,330.9 498.95,287.7 499.20,287.7 499.45,335.7 499.70,311.7 499.95,262.5 500.20,262.5 500.45,302.1 500.70,326.1 500.95,311.7 501.20,321.3 501.45,354.9 501.70,306.9 501.95,311.7 502.20,311.7 502.45,306.9 502.70,302.1 502.95,335.7 503.20,330.9 503.45,306.9 503.70,287.7 503.95,306.9 504.20,302.1 504.45,302.1 504.70,278.1 504.95,330.9 505.20,330.9 505.45,321.3 505.70,292.5 505.95,326.1 506.20,316.5 506.45,282.9 506.70,316.5 506.95,297.3 507.20,321.3 507.45,335.7 507.70,335.7 507.95,316.5 508.20,326.1 508.45,270.0 508.70,270.0 508.95,326.1 509.20,335.7 509.45,326.1 509.70,321.3 509.95,297.3 510.20,330.9 510.45,321.3 510.70,330.9 510.95,302.1 511.20,306.9 511.45,297.3 511.70,302.1 511.95,311.7 512.20,311.7 512.45,316.5 512.70,302.1 512.95,340.5 513.20,306.9 513.45,316.5 513.70,297.3 513.95,330.9 514.20,278.1 514.45,287.7 514.70,335.7 514.95,287.7 515.20,345.3 515.45,311.7 515.70,292.5 515.95,282.9 516.20,278.1 516.45,335.7 516.70,262.5 516.95,262.5 517.20,292.5 517.45,292.5 517.70,350.1 517.95,282.9 518.20,335.7 518.45,335.7 518.70,278.1 518.95,335.7 519.20,321.3 519.45,316.5 519.70,297.3 519.95,311.7 520.20,316.5 520.45,287.7 520.70,306.9 520.95,316.5 521.20,340.5 521.45,282.9 521.70,297.3 521.95,326.1 522.20,330.9 522.45,326.1 522.70,345.3 522.95,316.5 523.20,297.3 523.45,326.1 523.70,340.5 523.95,330.9 524.20,306.9 524.45,287.7 524.70,335.7 524.95,306.9 525.20,287.7 525.45,330.9 525.70,316.5 525.95,271.5 526.20,271.5 526.45,271.5 526.70,292.5 526.95,330.9 527.20,321.3 527.45,330.9 527.70,326.1 527.95,326.1 528.20,326.1 528.45,321.3 528.70,326.1 528.95,316.5 529.20,326.1 529.45,297.3 529.70,311.7 529.95,316.5 530.20,306.9 530.45,335.7 530.70,311.7 530.95,297.3 531.20,345.3 531.45,321.3 531.70,326.1 531.95,302.1 532.20,292.5 532.45,297.3 532.70,271.5 532.95,271.5 533.20,271.5 533.45,321.3 533.70,282.9 533.95,311.7 534.20,326.1 534.45,268.5 534.70,302.1 534.95,297.3 535.20,335.7 535.45,335.7 535.70,306.9 535.95,311.7 536.20,330.9 536.45,330.9 536.70,350.1 536.95,306.9 537.20,340.5 537.45,287.7 537.70,316.5 537.95,330.9 538.20,326.1 538.45,326.1 538.70,340.5 538.95,345.3 539.20,321.3 539.45,321.3 539.70,345.3 539.95,335.7 540.20,345.3 540.45,345.3 540.70,345.3 540.95,369.3 541.20,354.9 541.45,359.7 541.70,359.7 541.95,369.3 542.20,369.3 542.45,350.1 542.70,374.1 542.95,369.3 543.20,369.3 543.45,354.9 543.70,374.1 543.95,359.7 544.20,364.5 544.45,369.3 544.70,364.5 544.95,383.7 545.20,378.9 545.45,369.3 545.70,383.7 545.95,369.3 546.20,378.9 546.45,374.1 546.70,378.9 546.95,378.9 547.20,374.1 547.45,374.1 547.70,364.5 547.95,374.1 548.20,369.3 548.45,369.3 548.70,378.9 548.95,378.9 549.20,364.5 549.45,374.1 549.70,383.7 549.95,378.9 550.20,378.9 550.45,374.1 550.70,374.1 550.95,383.7 551.20,383.7 551.45,383.7 551.70,374.1 551.95,378.9 552.20,383.7 552.45,378.9 552.70,364.5 552.95,378.9 553.20,369.3 553.45,378.9 553.70,374.1 553.95,374.1 554.20,378.9 554.45,378.9 554.70,383.7 554.95,383.7 555.20,383.7 555.45,374.1 555.70,374.1 555.95,383.7 556.20,369.3 556.45,383.7 556.70,383.7 556.95,383.7 557.20,383.7 557.45,383.7 557.70,383.7 557.95,383.7 558.20,378.9 558.45,378.9 558.70,378.9 558.95,378.9 559.20,383.7 559.45,378.9 559.70,383.7 559.95,378.9 560.20,383.7 560.45,383.7 560.70,383.7 560.95,374.1 561.20,378.9 561.45,383.7 561.70,378.9 561.95,374.1 562.20,378.9 562.45,364.5 562.70,378.9 562.95,364.5 563.20,369.3 563.45,378.9 563.70,374.1 563.95,383.7 564.20,383.7 564.45,378.9 564.70,378.9 564.95,383.7 565.20,383.7 565.45,383.7 565.70,374.1 565.95,378.9 566.20,383.7 566.45,383.7 566.70,378.9 566.95,378.9 567.20,378.9 567.45,378.9 567.70,383.7 567.95,378.9 568.20,378.9 568.45,383.7 568.70,378.9 568.95,374.1 569.20,383.7 569.45,378.9 569.70,383.7 569.95,378.9 570.20,374.1 570.45,364.5 570.70,374.1 570.95,383.7 571.20,383.7 571.45,383.7 571.70,374.1 571.95,383.7 572.20,383.7 572.45,374.1 572.70,383.7 572.95,378.9 573.20,383.7 573.45,378.9 573.70,378.9 573.95,383.7 574.20,378.9 574.45,378.9 574.70,383.7 574.95,383.7 575.20,383.7 575.45,374.1 575.70,374.1 575.95,383.7 576.20,378.9 576.45,378.9 576.70,369.3 576.95,383.7 577.20,374.1 577.45,378.9 577.70,383.7 577.95,369.3 578.20,383.7 578.45,378.9 578.70,383.7 578.95,383.7 579.20,378.9 579.45,359.7 579.70,383.7 579.95,383.7 580.20,383.7 580.45,378.9 580.70,374.1 580.95,378.9 581.20,374.1 581.45,383.7 581.70,364.5 581.95,383.7 582.20,354.9 582.45,383.7 582.70,378.9 582.95,378.9 583.20,374.1 583.45,378.9 583.70,383.7 583.95,383.7 584.20,378.9 584.45,378.9 584.70,374.1 584.95,383.7 585.20,383.7 585.45,378.9 585.70,374.1 585.95,383.7 586.20,383.7 586.45,383.7 586.70,383.7 586.95,383.7 587.20,383.7 587.45,374.1 587.70,383.7 587.95,383.7 588.20,383.7 588.45,378.9 588.70,374.1 588.95,378.9 589.20,383.7 589.45,374.1 589.70,378.9 589.95,383.7 590.20,378.9 590.45,364.5 590.70,383.7 590.95,383.7 591.20,383.7 591.45,378.9 591.70,378.9 591.95,374.1 592.20,383.7 592.45,378.9 592.70,383.7 592.95,378.9 593.20,383.7 593.45,383.7 593.70,383.7 593.95,374.1 594.20,383.7 594.45,383.7 594.70,378.9 594.95,383.7 595.20,378.9 595.45,383.7 595.70,378.9 595.95,369.3 596.20,383.7 596.45,383.7 596.70,383.7 596.95,378.9 597.20,383.7 597.45,383.7 597.70,383.7 597.95,383.7 598.20,378.9 598.45,374.1 598.70,383.7 598.95,383.7 599.20,383.7 599.45,378.9 599.70,383.7 599.95,378.9 600.20,383.7 600.45,378.9 600.70,374.1 600.95,369.3 601.20,378.9 601.45,378.9 601.70,378.9 601.95,374.1 602.20,378.9 602.45,378.9 602.70,378.9 602.95,383.7 603.20,378.9 603.45,383.7 603.70,383.7 603.95,383.7 604.20,383.7 604.45,383.7 604.70,378.9 604.95,383.7 605.20,378.9 605.45,383.7 605.70,378.9 605.95,378.9 606.20,383.7 606.45,383.7 606.70,378.9 606.95,378.9 607.20,369.3 607.45,383.7 607.70,378.9 607.95,378.9 608.20,383.7 608.45,378.9 608.70,378.9 608.95,383.7 609.20,378.9 609.45,378.9 609.70,374.1 609.95,378.9 610.20,378.9 610.45,383.7 610.70,378.9 610.95,378.9 611.20,359.7 611.45,383.7 611.70,378.9 611.95,369.3 612.20,364.5 612.45,383.7 612.70,383.7 612.95,374.1 613.20,378.9 613.45,383.7 613.70,378.9 613.95,378.9 614.20,383.7 614.45,378.9 614.70,374.1 614.95,383.7 615.20,374.1 615.45,369.3 615.70,378.9 615.95,383.7 616.20,374.1 616.45,383.7 616.70,378.9 616.95,378.9 617.20,378.9 617.45,378.9 617.70,378.9 617.95,374.1 618.20,374.1 618.45,378.9 618.70,383.7 618.95,383.7 619.20,378.9 619.45,383.7 619.70,378.9 619.95,383.7 620.20,383.7 620.45,383.7 620.70,378.9 620.95,378.9 621.20,383.7 621.45,383.7 621.70,383.7 621.95,378.9 622.20,383.7 622.45,383.7 622.70,374.1 622.95,378.9 623.20,383.7 623.45,383.7 623.70,383.7 623.95,383.7 624.20,383.7 624.45,378.9 624.70,378.9 624.95,378.9 625.20,374.1 625.45,369.3 625.70,383.7 625.95,383.7 626.20,374.1 626.45,378.9 626.70,378.9 626.95,378.9 627.20,378.9 627.45,383.7 627.70,378.9 627.95,378.9 628.20,383.7 628.45,383.7 628.70,383.7 628.95,383.7 629.20,378.9 629.45,378.9 629.70,383.7 629.95,369.3 630.20,378.9 630.45,383.7 630.70,374.1 630.95,383.7 631.20,383.7 631.45,383.7 631.70,378.9 631.95,378.9 632.20,383.7 632.45,378.9 632.70,378.9 632.95,369.3 633.20,374.1 633.45,378.9" fill="none" stroke="#000" stroke-width="1.1"/>
<polyline points="385.70,378.9 385.95,383.7 386.20,378.9 386.45,383.7 386.70,383.7 386.95,383.7 387.20,383.7 387.45,374.1 387.70,383.7 387.95,383.7 388.20,378.9 388.45,378.9 388.70,383.7 388.95,378.9 389.20,383.7 389.45,369.3 389.70,378.9 389.95,374.1 390.20,369.3 390.45,383.7 390.70,383.7 390.95,378.9 391.20,383.7 391.45,378.9 391.70,383.7 391.95,374.1 392.20,383.7 392.45,383.7 392.70,374.1 392.95,383.7 393.20,383.7 393.45,383.7 393.70,383.7 393.95,383.7 394.20,374.1 394.45,378.9 394.70,383.7 394.95,383.7 395.20,383.7 395.45,378.9 395.70,383.7 395.95,378.9 396.20,378.9 396.45,383.7 396.70,383.7 396.95,378.9 397.20,383.7 397.45,383.7 397.70,378.9 397.95,383.7 398.20,378.9 398.45,383.7 398.70,374.1 398.95,378.9 399.20,383.7 399.45,383.7 399.70,374.1 399.95,378.9 400.20,383.7 400.45,369.3 400.70,378.9 400.95,383.7 401.20,383.7 401.45,378.9 401.70,378.9 401.95,383.7 402.20,383.7 402.45,383.7 402.70,383.7 402.95,383.7 403.20,374.1 403.45,383.7 403.70,374.1 403.95,378.9 404.20,374.1 404.45,374.1 404.70,378.9 404.95,383.7 405.20,383.7 405.45,369.3 405.70,383.7 405.95,383.7 406.20,369.3 406.45,383.7 406.70,383.7 406.95,374.1 407.20,378.9 407.45,378.9 407.70,374.1 407.95,383.7 408.20,383.7 408.45,383.7 408.70,374.1 408.95,374.1 409.20,378.9 409.45,378.9 409.70,383.7 409.95,378.9 410.20,378.9 410.45,378.9 410.70,369.3 410.95,378.9 411.20,378.9 411.45,383.7 411.70,374.1 411.95,378.9 412.20,383.7 412.45,378.9 412.70,378.9 412.95,383.7 413.20,378.9 413.45,378.9 413.70,378.9 413.95,378.9 414.20,374.1 414.45,383.7 414.70,383.7 414.95,383.7 415.20,383.7 415.45,383.7 415.70,383.7 415.95,383.7 416.20,378.9 416.45,378.9 416.70,383.7 416.95,383.7 417.20,383.7 417.45,383.7 417.70,383.7 417.95,383.7 418.20,383.7 418.45,374.1 418.70,383.7 418.95,383.7 419.20,378.9 419.45,378.9 419.70,378.9 419.95,383.7 420.20,378.9 420.45,383.7 420.70,383.7 420.95,374.1 421.20,383.7 421.45,364.5 421.70,383.7 421.95,383.7 422.20,383.7 422.45,378.9 422.70,383.7 422.95,383.7 423.20,383.7 423.45,383.7 423.70,383.7 423.95,374.1 424.20,383.7 424.45,383.7 424.70,378.9 424.95,369.3 425.20,378.9 425.45,383.7 425.70,383.7 425.95,383.7 426.20,369.3 426.45,378.9 426.70,374.1 426.95,383.7 427.20,383.7 427.45,378.9 427.70,383.7 427.95,383.7 428.20,383.7 428.45,383.7 428.70,378.9 428.95,378.9 429.20,378.9 429.45,383.7 429.70,374.1 429.95,378.9 430.20,378.9 430.45,383.7 430.70,383.7 430.95,378.9 431.20,383.7 431.45,378.9 431.70,383.7 431.95,378.9 432.20,374.1 432.45,383.7 432.70,383.7 432.95,378.9 433.20,378.9 433.45,383.7 433.70,383.7 433.95,378.9 434.20,374.1 434.45,378.9 434.70,378.9 434.95,383.7 435.20,383.7 435.45,374.1 435.70,378.9 435.95,383.7 436.20,374.1 436.45,369.3 436.70,383.7 436.95,378.9 437.20,378.9 437.45,374.1 437.70,383.7 437.95,378.9 438.20,383.7 438.45,383.7 438.70,383.7 438.95,383.7 439.20,383.7 439.45,383.7 439.70,378.9 439.95,378.9 440.20,378.9 440.45,383.7 440.70,378.9 440.95,383.7 441.20,378.9 441.45,383.7 441.70,383.7 441.95,383.7 442.20,383.7 442.45,378.9 442.70,374.1 442.95,383.7 443.20,378.9 443.45,378.9 443.70,383.7 443.95,378.9 444.20,378.9 444.45,374.1 444.70,383.7 444.95,378.9 445.20,383.7 445.45,383.7 445.70,383.7 445.95,378.9 446.20,383.7 446.45,383.7 446.70,383.7 446.95,383.7 447.20,383.7 447.45,383.7 447.70,378.9 447.95,383.7 448.20,378.9 448.45,378.9 448.70,383.7 448.95,383.7 449.20,378.9 449.45,383.7 449.70,378.9 449.95,378.9 450.20,383.7 450.45,383.7 450.70,374.1 450.95,378.9 451.20,378.9 451.45,383.7 451.70,369.3 451.95,383.7 452.20,378.9 452.45,383.7 452.70,378.9 452.95,383.7 453.20,374.1 453.45,378.9 453.70,383.7 453.95,374.1 454.20,383.7 454.45,383.7 454.70,378.9 454.95,383.7 455.20,383.7 455.45,378.9 455.70,369.3 455.95,383.7 456.20,378.9 456.45,378.9 456.70,374.1 456.95,378.9 457.20,378.9 457.45,378.9 457.70,383.7 457.95,383.7 458.20,378.9 458.45,383.7 458.70,383.7 458.95,383.7 459.20,378.9 459.45,383.7 459.70,374.1 459.95,378.9 460.20,383.7 460.45,383.7 460.70,378.9 460.95,383.7 461.20,383.7 461.45,383.7 461.70,383.7 461.95,383.7 462.20,378.9 462.45,378.9 462.70,374.1 462.95,378.9 463.20,378.9 463.45,378.9 463.70,378.9 463.95,383.7 464.20,378.9 464.45,383.7 464.70,378.9 464.95,383.7 465.20,378.9 465.45,374.1 465.70,374.1 465.95,383.7 466.20,383.7 466.45,374.1 466.70,383.7 466.95,383.7 467.20,383.7 467.45,383.7 467.70,378.9 467.95,383.7 468.20,378.9 468.45,374.1 468.70,383.7 468.95,378.9 469.20,383.7 469.45,378.9 469.70,383.7 469.95,378.9 470.20,374.1 470.45,378.9 470.70,369.3 470.95,378.9 471.20,378.9 471.45,378.9 471.70,378.9 471.95,383.7 472.20,383.7 472.45,369.3 472.70,369.3 472.95,383.7 473.20,374.1 473.45,369.3 473.70,378.9 473.95,359.7 474.20,374.1 474.45,374.1 474.70,383.7 474.95,364.5 475.20,364.5 475.45,374.1 475.70,354.9 475.95,369.3 476.20,350.1 476.45,369.3 476.70,345.3 476.95,354.9 477.20,378.9 477.45,369.3 477.70,359.7 477.95,374.1 478.20,364.5 478.45,359.7 478.70,369.3 478.95,350.1 479.20,359.7 479.45,378.9 479.70,354.9 479.95,369.3 480.20,354.9 480.45,378.9 480.70,364.5 480.95,354.9 481.20,330.9 481.45,345.3 481.70,354.9 481.95,364.5 482.20,354.9 482.45,364.5 482.70,350.1 482.95,369.3 483.20,369.3 483.45,374.1 483.70,359.7 483.95,359.7 484.20,354.9 484.45,378.9 484.70,340.5 484.95,354.9 485.20,354.9 485.45,359.7 485.70,378.9 485.95,374.1 486.20,345.3 486.45,359.7 486.70,335.7 486.95,364.5 487.20,345.3 487.45,354.9 487.70,378.9 487.95,364.5 488.20,383.7 488.45,369.3 488.70,335.7 488.95,330.9 489.20,374.1 489.45,335.7 489.70,374.1 489.95,364.5 490.20,354.9 490.45,350.1 490.70,340.5 490.95,364.5 491.20,364.5 491.45,340.5 491.70,374.1 491.95,345.3 492.20,340.5 492.45,364.5 492.70,369.3 492.95,374.1 493.20,350.1 493.45,374.1 493.70,364.5 493.95,369.3 494.20,345.3 494.45,359.7 494.70,359.7 494.95,354.9 495.20,378.9 495.45,369.3 495.70,364.5 495.95,364.5 496.20,359.7 496.45,364.5 496.70,359.7 496.95,350.1 497.20,364.5 497.45,378.9 497.70,374.1 497.95,374.1 498.20,374.1 498.45,369.3 498.70,374.1 498.95,354.9 499.20,364.5 499.45,340.5 499.70,350.1 499.95,350.1 500.20,354.9 500.45,354.9 500.70,350.1 500.95,369.3 501.20,374.1 501.45,364.5 501.70,350.1 501.95,369.3 502.20,359.7 502.45,383.7 502.70,359.7 502.95,350.1 503.20,340.5 503.45,354.9 503.70,374.1 503.95,369.3 504.20,369.3 504.45,359.7 504.70,345.3 504.95,354.9 505.20,369.3 505.45,364.5 505.70,364.5 505.95,364.5 506.20,364.5 506.45,374.1 506.70,364.5 506.95,369.3 507.20,359.7 507.45,359.7 507.70,354.9 507.95,374.1 508.20,374.1 508.45,354.9 508.70,374.1 508.95,369.3 509.20,350.1 509.45,369.3 509.70,359.7 509.95,350.1 510.20,354.9 510.45,378.9 510.70,364.5 510.95,359.7 511.20,364.5 511.45,340.5 511.70,354.9 511.95,369.3 512.20,359.7 512.45,350.1 512.70,354.9 512.95,364.5 513.20,359.7 513.45,364.5 513.70,364.5 513.95,369.3 514.20,359.7 514.45,350.1 514.70,354.9 514.95,345.3 515.20,374.1 515.45,369.3 515.70,374.1 515.95,359.7 516.20,345.3 516.45,350.1 516.70,326.1 516.95,359.7 517.20,364.5 517.45,354.9 517.70,369.3 517.95,364.5 518.20,369.3 518.45,350.1 518.70,359.7 518.95,345.3 519.20,374.1 519.45,364.5 519.70,345.3 519.95,359.7 520.20,359.7 520.45,359.7 520.70,359.7 520.95,354.9 521.20,369.3 521.45,330.9 521.70,350.1 521.95,364.5 522.20,369.3 522.45,364.5 522.70,374.1 522.95,350.1 523.20,359.7 523.45,364.5 523.70,374.1 523.95,374.1 524.20,364.5 524.45,359.7 524.70,364.5 524.95,345.3 525.20,354.9 525.45,350.1 525.70,350.1 525.95,364.5 526.20,359.7 526.45,359.7 526.70,350.1 526.95,359.7 527.20,354.9 527.45,345.3 527.70,369.3 527.95,359.7 528.20,374.1 528.45,374.1 528.70,364.5 528.95,374.1 529.20,359.7 529.45,359.7 529.70,364.5 529.95,359.7 530.20,359.7 530.45,359.7 530.70,359.7 530.95,383.7 531.20,359.7 531.45,359.7 531.70,369.3 531.95,359.7 532.20,359.7 532.45,374.1 532.70,369.3 532.95,359.7 533.20,364.5 533.45,369.3 533.70,369.3 533.95,354.9 534.20,369.3 534.45,345.3 534.70,378.9 534.95,364.5 535.20,364.5 535.45,354.9 535.70,340.5 535.95,364.5 536.20,369.3 536.45,369.3 536.70,369.3 536.95,369.3 537.20,359.7 537.45,359.7 537.70,374.1 537.95,369.3 538.20,364.5 538.45,350.1 538.70,364.5 538.95,374.1 539.20,364.5 539.45,378.9 539.70,383.7 539.95,359.7 540.20,364.5 540.45,374.1 540.70,369.3 540.95,378.9 541.20,378.9 541.45,374.1 541.70,364.5 541.95,383.7 542.20,364.5 542.45,383.7 542.70,374.1 542.95,383.7 543.20,383.7 543.45,374.1 543.70,383.7 543.95,378.9 544.20,378.9 544.45,378.9 544.70,378.9 544.95,374.1 545.20,383.7 545.45,383.7 545.70,383.7 545.95,359.7 546.20,383.7 546.45,378.9 546.70,369.3 546.95,383.7 547.20,378.9 547.45,378.9 547.70,383.7 547.95,378.9 548.20,383.7 548.45,378.9 548.70,383.7 548.95,378.9 549.20,378.9 549.45,378.9 549.70,378.9 549.95,383.7 550.20,383.7 550.45,383.7 550.70,374.1 550.95,378.9 551.20,378.9 551.45,383.7 551.70,383.7 551.95,383.7 552.20,383.7 552.45,383.7 552.70,383.7 552.95,383.7 553.20,378.9 553.45,383.7 553.70,383.7 553.95,383.7 554.20,383.7 554.45,383.7 554.70,378.9 554.95,378.9 555.20,374.1 555.45,383.7 555.70,378.9 555.95,383.7 556.20,378.9 556.45,383.7 556.70,383.7 556.95,383.7 557.20,383.7 557.45,378.9 557.70,378.9 557.95,383.7 558.20,383.7 558.45,378.9 558.70,378.9 558.95,383.7 559.20,378.9 559.45,378.9 559.70,378.9 559.95,374.1 560.20,383.7 560.45,383.7 560.70,374.1 560.95,383.7 561.20,378.9 561.45,378.9 561.70,378.9 561.95,383.7 562.20,378.9 562.45,383.7 562.70,374.1 562.95,378.9 563.20,383.7 563.45,378.9 563.70,383.7 563.95,374.1 564.20,383.7 564.45,374.1 564.70,383.7 564.95,383.7 565.20,369.3 565.45,378.9 565.70,378.9 565.95,383.7 566.20,383.7 566.45,378.9 566.70,383.7 566.95,383.7 567.20,383.7 567.45,383.7 567.70,383.7 567.95,378.9 568.20,374.1 568.45,378.9 568.70,378.9 568.95,374.1 569.20,374.1 569.45,383.7 569.70,383.7 569.95,383.7 570.20,378.9 570.45,383.7 570.70,378.9 570.95,383.7 571.20,378.9 571.45,378.9 571.70,374.1 571.95,378.9 572.20,383.7 572.45,383.7 572.70,383.7 572.95,374.1 573.20,383.7 573.45,378.9 573.70,383.7 573.95,378.9 574.20,383.7 574.45,383.7 574.70,383.7 574.95,374.1 575.20,378.9 575.45,383.7 575.70,369.3 575.95,378.9 576.20,383.7 576.45,383.7 576.70,378.9 576.95,383.7 577.20,383.7 577.45,383.7 577.70,383.7 577.95,383.7 578.20,383.7 578.45,383.7 578.70,378.9 578.95,383.7 579.20,364.5 579.45,383.7 579.70,378.9 579.95,383.7 580.20,369.3 580.45,383.7 580.70,374.1 580.95,383.7 581.20,383.7 581.45,383.7 581.70,369.3 581.95,383.7 582.20,374.1 582.45,383.7 582.70,369.3 582.95,383.7 583.20,383.7 583.45,378.9 583.70,383.7 583.95,383.7 584.20,383.7 584.45,374.1 584.70,383.7 584.95,378.9 585.20,374.1 585.45,378.9 585.70,383.7 585.95,383.7 586.20,383.7 586.45,383.7 586.70,383.7 586.95,383.7 587.20,374.1 587.45,383.7 587.70,383.7 587.95,383.7 588.20,383.7 588.45,378.9 588.70,378.9 588.95,378.9 589.20,378.9 589.45,369.3 589.70,383.7 589.95,378.9 590.20,383.7 590.45,383.7 590.70,378.9 590.95,374.1 591.20,383.7 591.45,378.9 591.70,383.7 591.95,374.1 592.20,378.9 592.45,378.9 592.70,374.1 592.95,378.9 593.20,383.7 593.45,383.7 593.70,383.7 593.95,383.7 594.20,383.7 594.45,383.7 594.70,378.9 594.95,383.7 595.20,383.7 595.45,378.9 595.70,374.1 595.95,378.9 596.20,378.9 596.45,383.7 596.70,383.7 596.95,383.7 597.20,374.1 597.45,378.9 597.70,383.7 597.95,378.9 598.20,374.1 598.45,378.9 598.70,378.9 598.95,374.1 599.20,383.7 599.45,383.7 599.70,383.7 599.95,378.9 600.20,378.9 600.45,383.7 600.70,383.7 600.95,378.9 601.20,383.7 601.45,378.9 601.70,383.7 601.95,383.7 602.20,383.7 602.45,383.7 602.70,383.7 602.95,383.7 603.20,383.7 603.45,374.1 603.70,374.1 603.95,374.1 604.20,378.9 604.45,369.3 604.70,378.9 604.95,383.7 605.20,383.7 605.45,383.7 605.70,378.9 605.95,378.9 606.20,383.7 606.45,378.9 606.70,378.9 606.95,378.9 607.20,383.7 607.45,383.7 607.70,383.7 607.95,383.7 608.20,378.9 608.45,378.9 608.70,383.7 608.95,378.9 609.20,369.3 609.45,383.7 609.70,374.1 609.95,383.7 610.20,383.7 610.45,383.7 610.70,383.7 610.95,383.7 611.20,374.1 611.45,383.7 611.70,383.7 611.95,383.7 612.20,378.9 612.45,374.1 612.70,374.1 612.95,378.9 613.20,383.7 613.45,378.9 613.70,383.7 613.95,378.9 614.20,383.7 614.45,383.7 614.70,383.7 614.95,383.7 615.20,383.7 615.45,378.9 615.70,383.7 615.95,383.7 616.20,383.7 616.45,383.7 616.70,378.9 616.95,383.7 617.20,383.7 617.45,378.9 617.70,383.7 617.95,378.9 618.20,378.9 618.45,378.9 618.70,378.9 618.95,383.7 619.20,383.7 619.45,383.7 619.70,383.7 619.95,383.7 620.20,378.9 620.45,383.7 620.70,383.7 620.95,383.7 621.20,383.7 621.45,378.9 621.70,383.7 621.95,383.7 622.20,378.9 622.45,383.7 622.70,374.1 622.95,374.1 623.20,378.9 623.45,378.9 623.70,383.7 623.95,383.7 624.20,374.1 624.45,383.7 624.70,383.7 624.95,378.9 625.20,383.7 625.45,374.1 625.70,383.7 625.95,378.9 626.20,374.1 626.45,383.7 626.70,383.7 626.95,383.7 627.20,374.1 627.45,383.7 627.70,374.1 627.95,378.9 628.20,378.9 628.45,383.7 628.70,383.7 628.95,383.7 629.20,374.1 629.45,383.7 629.70,383.7 629.95,378.9 630.20,383.7 630.45,383.7 630.70,383.7 630.95,369.3 631.20,378.9 631.45,383.7 631.70,374.1 631.95,383.7 632.20,378.9 632.45,378.9 632.70,383.7 632.95,383.7 633.20,383.7 633.45,378.9" fill="none" stroke="#0000ff" stroke-width="1.1"/>
</g>
<rect x="385.4" y="195.9" width="248.60000000000002" height="199.1" fill="none" stroke="#000" stroke-width="1.7"/>
<line x1="385.6" y1="395.0" x2="385.6" y2="398.8" stroke="#111" stroke-width="1.1"/>
<text x="385.6" y="408.5" font-size="8.2" text-anchor="middle" font-family="'Liberation Sans', sans-serif" font-weight="bold" fill="#000">0.0</text>
<line x1="435.2" y1="395.0" x2="435.2" y2="398.8" stroke="#111" stroke-width="1.1"/>
<text x="435.2" y="408.5" font-size="8.2" text-anchor="middle" font-family="'Liberation Sans', sans-serif" font-weight="bold" fill="#000">0.1</text>
<line x1="484.8" y1="395.0" x2="484.8" y2="398.8" stroke="#111" stroke-width="1.1"/>
<text x="484.8" y="408.5" font-size="8.2" text-anchor="middle" font-family="'Liberation Sans', sans-serif" font-weight="bold" fill="#000">0.2</text>
<line x1="534.4" y1="395.0" x2="534.4" y2="398.8" stroke="#111" stroke-width="1.1"/>
<text x="534.4" y="408.5" font-size="8.2" text-anchor="middle" font-family="'Liberation Sans', sans-serif" font-weight="bold" fill="#000">0.3</text>
<line x1="584.0" y1="395.0" x2="584.0" y2="398.8" stroke="#111" stroke-width="1.1"/>
<text x="584.0" y="408.5" font-size="8.2" text-anchor="middle" font-family="'Liberation Sans', sans-serif" font-weight="bold" fill="#000">0.4</text>
<line x1="633.6" y1="395.0" x2="633.6" y2="398.8" stroke="#111" stroke-width="1.1"/>
<text x="633.6" y="408.5" font-size="8.2" text-anchor="middle" font-family="'Liberation Sans', sans-serif" font-weight="bold" fill="#000">0.5</text>
<line x1="410.4" y1="395.0" x2="410.4" y2="397.6" stroke="#111" stroke-width="1.1"/>
<line x1="460.0" y1="395.0" x2="460.0" y2="397.6" stroke="#111" stroke-width="1.1"/>
<line x1="509.6" y1="395.0" x2="509.6" y2="397.6" stroke="#111" stroke-width="1.1"/>
<line x1="559.2" y1="395.0" x2="559.2" y2="397.6" stroke="#111" stroke-width="1.1"/>
<line x1="608.8" y1="395.0" x2="608.8" y2="397.6" stroke="#111" stroke-width="1.1"/>
<text x="610.4" y="209.0" font-size="11.9" font-family="'Liberation Sans', sans-serif" font-weight="bold" fill="#111">(e)</text>
<text x="465.9" y="427.4" font-size="12.25" font-family="'Liberation Sans', sans-serif" font-weight="bold" fill="#111">Distance / [µm]</text></svg></body></html>
